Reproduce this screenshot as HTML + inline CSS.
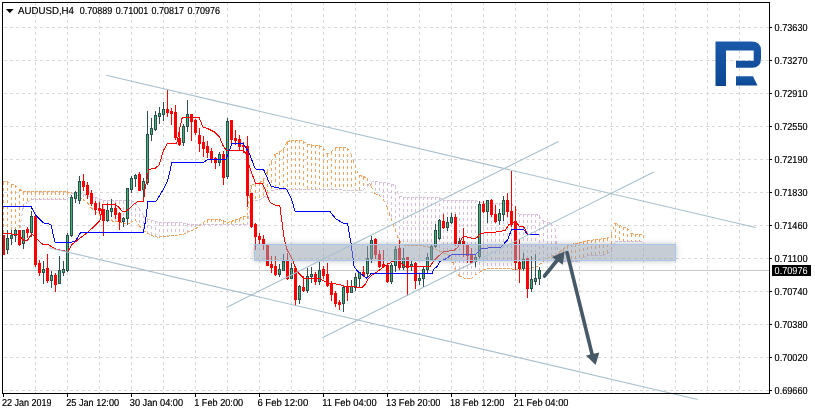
<!DOCTYPE html>
<html><head><meta charset="utf-8"><style>
html,body{margin:0;padding:0;background:#fff;width:815px;height:414px;overflow:hidden}
svg{display:block}
text{font-family:"Liberation Sans",sans-serif;text-rendering:geometricPrecision}
</style></head><body>
<svg width="815" height="414" viewBox="0 0 815 414" shape-rendering="crispEdges">
<defs><filter id="blur" x="-10%" y="-100%" width="120%" height="300%"><feGaussianBlur stdDeviation="3"/></filter><filter id="crisp" filterUnits="userSpaceOnUse" x="0" y="0" width="815" height="414"><feComponentTransfer><feFuncA type="gamma" amplitude="1" exponent="0.7" offset="0"/></feComponentTransfer></filter><mask id="rm" maskUnits="userSpaceOnUse" x="0" y="0" width="815" height="414"><rect x="0" y="0" width="815" height="414" fill="#fff"/><rect x="254" y="244" width="422" height="17" fill="#000"/></mask></defs>
<line x1="35.5" y1="2" x2="35.5" y2="393" stroke="#d9d9d9" stroke-width="1" stroke-dasharray="3 3"/>
<line x1="67.5" y1="2" x2="67.5" y2="393" stroke="#d9d9d9" stroke-width="1" stroke-dasharray="3 3"/>
<line x1="99.5" y1="2" x2="99.5" y2="393" stroke="#d9d9d9" stroke-width="1" stroke-dasharray="3 3"/>
<line x1="131.5" y1="2" x2="131.5" y2="393" stroke="#d9d9d9" stroke-width="1" stroke-dasharray="3 3"/>
<line x1="163.5" y1="2" x2="163.5" y2="393" stroke="#d9d9d9" stroke-width="1" stroke-dasharray="3 3"/>
<line x1="195.5" y1="2" x2="195.5" y2="393" stroke="#d9d9d9" stroke-width="1" stroke-dasharray="3 3"/>
<line x1="227.5" y1="2" x2="227.5" y2="393" stroke="#d9d9d9" stroke-width="1" stroke-dasharray="3 3"/>
<line x1="259.5" y1="2" x2="259.5" y2="393" stroke="#d9d9d9" stroke-width="1" stroke-dasharray="3 3"/>
<line x1="291.5" y1="2" x2="291.5" y2="393" stroke="#d9d9d9" stroke-width="1" stroke-dasharray="3 3"/>
<line x1="323.5" y1="2" x2="323.5" y2="393" stroke="#d9d9d9" stroke-width="1" stroke-dasharray="3 3"/>
<line x1="355.5" y1="2" x2="355.5" y2="393" stroke="#d9d9d9" stroke-width="1" stroke-dasharray="3 3"/>
<line x1="387.5" y1="2" x2="387.5" y2="393" stroke="#d9d9d9" stroke-width="1" stroke-dasharray="3 3"/>
<line x1="419.5" y1="2" x2="419.5" y2="393" stroke="#d9d9d9" stroke-width="1" stroke-dasharray="3 3"/>
<line x1="451.5" y1="2" x2="451.5" y2="393" stroke="#d9d9d9" stroke-width="1" stroke-dasharray="3 3"/>
<line x1="483.5" y1="2" x2="483.5" y2="393" stroke="#d9d9d9" stroke-width="1" stroke-dasharray="3 3"/>
<line x1="515.5" y1="2" x2="515.5" y2="393" stroke="#d9d9d9" stroke-width="1" stroke-dasharray="3 3"/>
<line x1="547.5" y1="2" x2="547.5" y2="393" stroke="#d9d9d9" stroke-width="1" stroke-dasharray="3 3"/>
<line x1="579.5" y1="2" x2="579.5" y2="393" stroke="#d9d9d9" stroke-width="1" stroke-dasharray="3 3"/>
<line x1="611.5" y1="2" x2="611.5" y2="393" stroke="#d9d9d9" stroke-width="1" stroke-dasharray="3 3"/>
<line x1="643.5" y1="2" x2="643.5" y2="393" stroke="#d9d9d9" stroke-width="1" stroke-dasharray="3 3"/>
<line x1="675.5" y1="2" x2="675.5" y2="393" stroke="#d9d9d9" stroke-width="1" stroke-dasharray="3 3"/>
<line x1="707.5" y1="2" x2="707.5" y2="393" stroke="#d9d9d9" stroke-width="1" stroke-dasharray="3 3"/>
<line x1="739.5" y1="2" x2="739.5" y2="393" stroke="#d9d9d9" stroke-width="1" stroke-dasharray="3 3"/>
<line x1="4" y1="27.5" x2="769" y2="27.5" stroke="#d9d9d9" stroke-width="1" stroke-dasharray="3 3"/>
<line x1="4" y1="60.5" x2="769" y2="60.5" stroke="#d9d9d9" stroke-width="1" stroke-dasharray="3 3"/>
<line x1="4" y1="93.5" x2="769" y2="93.5" stroke="#d9d9d9" stroke-width="1" stroke-dasharray="3 3"/>
<line x1="4" y1="126.5" x2="769" y2="126.5" stroke="#d9d9d9" stroke-width="1" stroke-dasharray="3 3"/>
<line x1="4" y1="159.5" x2="769" y2="159.5" stroke="#d9d9d9" stroke-width="1" stroke-dasharray="3 3"/>
<line x1="4" y1="192.5" x2="769" y2="192.5" stroke="#d9d9d9" stroke-width="1" stroke-dasharray="3 3"/>
<line x1="4" y1="225.5" x2="769" y2="225.5" stroke="#d9d9d9" stroke-width="1" stroke-dasharray="3 3"/>
<line x1="4" y1="258.5" x2="769" y2="258.5" stroke="#d9d9d9" stroke-width="1" stroke-dasharray="3 3"/>
<line x1="4" y1="291.5" x2="769" y2="291.5" stroke="#d9d9d9" stroke-width="1" stroke-dasharray="3 3"/>
<line x1="4" y1="324.5" x2="769" y2="324.5" stroke="#d9d9d9" stroke-width="1" stroke-dasharray="3 3"/>
<line x1="4" y1="357.5" x2="769" y2="357.5" stroke="#d9d9d9" stroke-width="1" stroke-dasharray="3 3"/>
<line x1="4" y1="390.5" x2="769" y2="390.5" stroke="#d9d9d9" stroke-width="1" stroke-dasharray="3 3"/>
<line x1="3" y1="270.5" x2="769" y2="270.5" stroke="#c8c8c8" stroke-width="1"/>
<line x1="3.5" y1="181.5" x2="3.5" y2="254.0" stroke="#f4a460" stroke-dasharray="3 3"/>
<line x1="7.5" y1="181.5" x2="7.5" y2="249.1" stroke="#f4a460" stroke-dasharray="3 3"/>
<line x1="11.5" y1="184.7" x2="11.5" y2="244.2" stroke="#f4a460" stroke-dasharray="3 3"/>
<line x1="15.5" y1="184.7" x2="15.5" y2="239.2" stroke="#f4a460" stroke-dasharray="3 3"/>
<line x1="19.5" y1="189.0" x2="19.5" y2="234.3" stroke="#f4a460" stroke-dasharray="3 3"/>
<line x1="23.5" y1="191.8" x2="23.5" y2="208.4" stroke="#f4a460" stroke-dasharray="3 3"/>
<line x1="27.5" y1="191.8" x2="27.5" y2="202.1" stroke="#f4a460" stroke-dasharray="3 3"/>
<line x1="31.5" y1="191.8" x2="31.5" y2="200.0" stroke="#f4a460" stroke-dasharray="3 3"/>
<line x1="35.5" y1="191.8" x2="35.5" y2="199.9" stroke="#f4a460" stroke-dasharray="3 3"/>
<line x1="39.5" y1="191.8" x2="39.5" y2="199.9" stroke="#f4a460" stroke-dasharray="3 3"/>
<line x1="43.5" y1="191.8" x2="43.5" y2="199.8" stroke="#f4a460" stroke-dasharray="3 3"/>
<line x1="47.5" y1="191.8" x2="47.5" y2="199.8" stroke="#f4a460" stroke-dasharray="3 3"/>
<line x1="51.5" y1="191.8" x2="51.5" y2="199.7" stroke="#f4a460" stroke-dasharray="3 3"/>
<line x1="55.5" y1="191.8" x2="55.5" y2="199.7" stroke="#f4a460" stroke-dasharray="3 3"/>
<line x1="59.5" y1="191.8" x2="59.5" y2="199.6" stroke="#f4a460" stroke-dasharray="3 3"/>
<line x1="63.5" y1="191.8" x2="63.5" y2="199.6" stroke="#f4a460" stroke-dasharray="3 3"/>
<line x1="67.5" y1="191.8" x2="67.5" y2="199.5" stroke="#f4a460" stroke-dasharray="3 3"/>
<line x1="71.5" y1="192.5" x2="71.5" y2="194.0" stroke="#f4a460" stroke-dasharray="3 3"/>
<line x1="75.5" y1="193.2" x2="75.5" y2="194.2" stroke="#d8bfd8" stroke-dasharray="3 3"/>
<line x1="79.5" y1="192.4" x2="79.5" y2="197.0" stroke="#d8bfd8" stroke-dasharray="3 3"/>
<line x1="83.5" y1="194.0" x2="83.5" y2="199.6" stroke="#d8bfd8" stroke-dasharray="3 3"/>
<line x1="87.5" y1="195.6" x2="87.5" y2="202.3" stroke="#d8bfd8" stroke-dasharray="3 3"/>
<line x1="91.5" y1="196.7" x2="91.5" y2="207.4" stroke="#d8bfd8" stroke-dasharray="3 3"/>
<line x1="95.5" y1="197.6" x2="95.5" y2="211.4" stroke="#d8bfd8" stroke-dasharray="3 3"/>
<line x1="99.5" y1="198.6" x2="99.5" y2="214.6" stroke="#d8bfd8" stroke-dasharray="3 3"/>
<line x1="103.5" y1="200.1" x2="103.5" y2="217.6" stroke="#d8bfd8" stroke-dasharray="3 3"/>
<line x1="107.5" y1="200.5" x2="107.5" y2="220.0" stroke="#d8bfd8" stroke-dasharray="3 3"/>
<line x1="111.5" y1="200.5" x2="111.5" y2="220.7" stroke="#d8bfd8" stroke-dasharray="3 3"/>
<line x1="115.5" y1="200.5" x2="115.5" y2="221.5" stroke="#d8bfd8" stroke-dasharray="3 3"/>
<line x1="119.5" y1="200.5" x2="119.5" y2="222.2" stroke="#d8bfd8" stroke-dasharray="3 3"/>
<line x1="123.5" y1="200.5" x2="123.5" y2="223.0" stroke="#d8bfd8" stroke-dasharray="3 3"/>
<line x1="127.5" y1="200.5" x2="127.5" y2="223.7" stroke="#d8bfd8" stroke-dasharray="3 3"/>
<line x1="131.5" y1="200.8" x2="131.5" y2="222.9" stroke="#d8bfd8" stroke-dasharray="3 3"/>
<line x1="135.5" y1="202.2" x2="135.5" y2="219.3" stroke="#d8bfd8" stroke-dasharray="3 3"/>
<line x1="139.5" y1="208.2" x2="139.5" y2="225.1" stroke="#d8bfd8" stroke-dasharray="3 3"/>
<line x1="143.5" y1="215.1" x2="143.5" y2="230.2" stroke="#d8bfd8" stroke-dasharray="3 3"/>
<line x1="147.5" y1="218.6" x2="147.5" y2="233.0" stroke="#d8bfd8" stroke-dasharray="3 3"/>
<line x1="151.5" y1="220.0" x2="151.5" y2="234.9" stroke="#d8bfd8" stroke-dasharray="3 3"/>
<line x1="155.5" y1="221.3" x2="155.5" y2="236.9" stroke="#d8bfd8" stroke-dasharray="3 3"/>
<line x1="159.5" y1="222.7" x2="159.5" y2="237.1" stroke="#d8bfd8" stroke-dasharray="3 3"/>
<line x1="163.5" y1="222.7" x2="163.5" y2="236.6" stroke="#d8bfd8" stroke-dasharray="3 3"/>
<line x1="167.5" y1="222.7" x2="167.5" y2="236.2" stroke="#d8bfd8" stroke-dasharray="3 3"/>
<line x1="171.5" y1="222.7" x2="171.5" y2="235.8" stroke="#d8bfd8" stroke-dasharray="3 3"/>
<line x1="175.5" y1="222.7" x2="175.5" y2="235.3" stroke="#d8bfd8" stroke-dasharray="3 3"/>
<line x1="179.5" y1="222.7" x2="179.5" y2="234.9" stroke="#d8bfd8" stroke-dasharray="3 3"/>
<line x1="183.5" y1="223.1" x2="183.5" y2="234.3" stroke="#d8bfd8" stroke-dasharray="3 3"/>
<line x1="187.5" y1="223.9" x2="187.5" y2="232.5" stroke="#d8bfd8" stroke-dasharray="3 3"/>
<line x1="191.5" y1="224.2" x2="191.5" y2="230.8" stroke="#d8bfd8" stroke-dasharray="3 3"/>
<line x1="195.5" y1="224.3" x2="195.5" y2="229.0" stroke="#d8bfd8" stroke-dasharray="3 3"/>
<line x1="199.5" y1="224.3" x2="199.5" y2="226.1" stroke="#d8bfd8" stroke-dasharray="3 3"/>
<line x1="203.5" y1="222.9" x2="203.5" y2="224.4" stroke="#f4a460" stroke-dasharray="3 3"/>
<line x1="207.5" y1="219.6" x2="207.5" y2="224.4" stroke="#f4a460" stroke-dasharray="3 3"/>
<line x1="211.5" y1="219.3" x2="211.5" y2="224.5" stroke="#f4a460" stroke-dasharray="3 3"/>
<line x1="215.5" y1="219.3" x2="215.5" y2="224.6" stroke="#f4a460" stroke-dasharray="3 3"/>
<line x1="219.5" y1="219.3" x2="219.5" y2="224.6" stroke="#f4a460" stroke-dasharray="3 3"/>
<line x1="223.5" y1="220.5" x2="223.5" y2="224.7" stroke="#f4a460" stroke-dasharray="3 3"/>
<line x1="227.5" y1="222.5" x2="227.5" y2="224.7" stroke="#f4a460" stroke-dasharray="3 3"/>
<line x1="231.5" y1="221.6" x2="231.5" y2="224.8" stroke="#f4a460" stroke-dasharray="3 3"/>
<line x1="235.5" y1="220.1" x2="235.5" y2="224.8" stroke="#f4a460" stroke-dasharray="3 3"/>
<line x1="239.5" y1="218.6" x2="239.5" y2="224.9" stroke="#f4a460" stroke-dasharray="3 3"/>
<line x1="243.5" y1="217.1" x2="243.5" y2="224.9" stroke="#f4a460" stroke-dasharray="3 3"/>
<line x1="247.5" y1="215.6" x2="247.5" y2="225.0" stroke="#f4a460" stroke-dasharray="3 3"/>
<line x1="251.5" y1="185.5" x2="251.5" y2="201.2" stroke="#f4a460" stroke-dasharray="3 3"/>
<line x1="255.5" y1="184.1" x2="255.5" y2="200.5" stroke="#f4a460" stroke-dasharray="3 3"/>
<line x1="259.5" y1="182.8" x2="259.5" y2="199.8" stroke="#f4a460" stroke-dasharray="3 3"/>
<line x1="263.5" y1="180.6" x2="263.5" y2="198.0" stroke="#f4a460" stroke-dasharray="3 3"/>
<line x1="267.5" y1="171.9" x2="267.5" y2="195.0" stroke="#f4a460" stroke-dasharray="3 3"/>
<line x1="271.5" y1="161.7" x2="271.5" y2="190.4" stroke="#f4a460" stroke-dasharray="3 3"/>
<line x1="275.5" y1="154.6" x2="275.5" y2="189.8" stroke="#f4a460" stroke-dasharray="3 3"/>
<line x1="279.5" y1="152.1" x2="279.5" y2="189.8" stroke="#f4a460" stroke-dasharray="3 3"/>
<line x1="283.5" y1="150.1" x2="283.5" y2="189.8" stroke="#f4a460" stroke-dasharray="3 3"/>
<line x1="287.5" y1="142.0" x2="287.5" y2="189.8" stroke="#f4a460" stroke-dasharray="3 3"/>
<line x1="291.5" y1="140.4" x2="291.5" y2="189.8" stroke="#f4a460" stroke-dasharray="3 3"/>
<line x1="295.5" y1="140.4" x2="295.5" y2="189.9" stroke="#f4a460" stroke-dasharray="3 3"/>
<line x1="299.5" y1="140.4" x2="299.5" y2="189.9" stroke="#f4a460" stroke-dasharray="3 3"/>
<line x1="303.5" y1="141.0" x2="303.5" y2="189.9" stroke="#f4a460" stroke-dasharray="3 3"/>
<line x1="307.5" y1="144.2" x2="307.5" y2="189.9" stroke="#f4a460" stroke-dasharray="3 3"/>
<line x1="311.5" y1="144.9" x2="311.5" y2="189.9" stroke="#f4a460" stroke-dasharray="3 3"/>
<line x1="315.5" y1="145.2" x2="315.5" y2="189.9" stroke="#f4a460" stroke-dasharray="3 3"/>
<line x1="319.5" y1="145.5" x2="319.5" y2="189.9" stroke="#f4a460" stroke-dasharray="3 3"/>
<line x1="323.5" y1="147.8" x2="323.5" y2="189.9" stroke="#f4a460" stroke-dasharray="3 3"/>
<line x1="327.5" y1="154.2" x2="327.5" y2="189.9" stroke="#f4a460" stroke-dasharray="3 3"/>
<line x1="331.5" y1="152.0" x2="331.5" y2="189.9" stroke="#f4a460" stroke-dasharray="3 3"/>
<line x1="335.5" y1="148.0" x2="335.5" y2="189.9" stroke="#f4a460" stroke-dasharray="3 3"/>
<line x1="339.5" y1="147.9" x2="339.5" y2="189.9" stroke="#f4a460" stroke-dasharray="3 3"/>
<line x1="343.5" y1="147.8" x2="343.5" y2="190.0" stroke="#f4a460" stroke-dasharray="3 3"/>
<line x1="347.5" y1="147.7" x2="347.5" y2="190.0" stroke="#f4a460" stroke-dasharray="3 3"/>
<line x1="351.5" y1="154.2" x2="351.5" y2="190.0" stroke="#f4a460" stroke-dasharray="3 3"/>
<line x1="355.5" y1="165.1" x2="355.5" y2="190.0" stroke="#f4a460" stroke-dasharray="3 3"/>
<line x1="359.5" y1="175.2" x2="359.5" y2="190.0" stroke="#f4a460" stroke-dasharray="3 3"/>
<line x1="363.5" y1="176.5" x2="363.5" y2="190.0" stroke="#f4a460" stroke-dasharray="3 3"/>
<line x1="367.5" y1="177.8" x2="367.5" y2="186.5" stroke="#f4a460" stroke-dasharray="3 3"/>
<line x1="371.5" y1="182.1" x2="371.5" y2="186.3" stroke="#d8bfd8" stroke-dasharray="3 3"/>
<line x1="375.5" y1="181.8" x2="375.5" y2="193.5" stroke="#d8bfd8" stroke-dasharray="3 3"/>
<line x1="379.5" y1="182.1" x2="379.5" y2="195.2" stroke="#d8bfd8" stroke-dasharray="3 3"/>
<line x1="383.5" y1="182.5" x2="383.5" y2="199.4" stroke="#d8bfd8" stroke-dasharray="3 3"/>
<line x1="387.5" y1="183.0" x2="387.5" y2="206.9" stroke="#d8bfd8" stroke-dasharray="3 3"/>
<line x1="391.5" y1="184.1" x2="391.5" y2="218.2" stroke="#d8bfd8" stroke-dasharray="3 3"/>
<line x1="395.5" y1="185.5" x2="395.5" y2="229.3" stroke="#d8bfd8" stroke-dasharray="3 3"/>
<line x1="399.5" y1="195.9" x2="399.5" y2="240.2" stroke="#d8bfd8" stroke-dasharray="3 3"/>
<line x1="403.5" y1="197.3" x2="403.5" y2="244.9" stroke="#d8bfd8" stroke-dasharray="3 3"/>
<line x1="407.5" y1="197.3" x2="407.5" y2="245.3" stroke="#d8bfd8" stroke-dasharray="3 3"/>
<line x1="411.5" y1="197.2" x2="411.5" y2="245.4" stroke="#d8bfd8" stroke-dasharray="3 3"/>
<line x1="415.5" y1="197.2" x2="415.5" y2="245.6" stroke="#d8bfd8" stroke-dasharray="3 3"/>
<line x1="419.5" y1="197.2" x2="419.5" y2="245.8" stroke="#d8bfd8" stroke-dasharray="3 3"/>
<line x1="423.5" y1="197.2" x2="423.5" y2="246.0" stroke="#d8bfd8" stroke-dasharray="3 3"/>
<line x1="427.5" y1="197.2" x2="427.5" y2="246.8" stroke="#d8bfd8" stroke-dasharray="3 3"/>
<line x1="431.5" y1="197.1" x2="431.5" y2="247.8" stroke="#d8bfd8" stroke-dasharray="3 3"/>
<line x1="435.5" y1="197.1" x2="435.5" y2="249.1" stroke="#d8bfd8" stroke-dasharray="3 3"/>
<line x1="439.5" y1="197.1" x2="439.5" y2="250.7" stroke="#d8bfd8" stroke-dasharray="3 3"/>
<line x1="443.5" y1="200.3" x2="443.5" y2="252.7" stroke="#d8bfd8" stroke-dasharray="3 3"/>
<line x1="447.5" y1="200.3" x2="447.5" y2="254.7" stroke="#d8bfd8" stroke-dasharray="3 3"/>
<line x1="451.5" y1="200.3" x2="451.5" y2="256.6" stroke="#d8bfd8" stroke-dasharray="3 3"/>
<line x1="455.5" y1="200.3" x2="455.5" y2="268.5" stroke="#d8bfd8" stroke-dasharray="3 3"/>
<line x1="459.5" y1="200.3" x2="459.5" y2="275.8" stroke="#d8bfd8" stroke-dasharray="3 3"/>
<line x1="463.5" y1="200.3" x2="463.5" y2="277.8" stroke="#d8bfd8" stroke-dasharray="3 3"/>
<line x1="467.5" y1="200.3" x2="467.5" y2="278.9" stroke="#d8bfd8" stroke-dasharray="3 3"/>
<line x1="471.5" y1="200.3" x2="471.5" y2="278.7" stroke="#d8bfd8" stroke-dasharray="3 3"/>
<line x1="475.5" y1="200.3" x2="475.5" y2="275.2" stroke="#d8bfd8" stroke-dasharray="3 3"/>
<line x1="479.5" y1="201.9" x2="479.5" y2="272.4" stroke="#d8bfd8" stroke-dasharray="3 3"/>
<line x1="483.5" y1="203.4" x2="483.5" y2="270.1" stroke="#d8bfd8" stroke-dasharray="3 3"/>
<line x1="487.5" y1="203.4" x2="487.5" y2="268.6" stroke="#d8bfd8" stroke-dasharray="3 3"/>
<line x1="491.5" y1="203.4" x2="491.5" y2="268.2" stroke="#d8bfd8" stroke-dasharray="3 3"/>
<line x1="495.5" y1="203.4" x2="495.5" y2="268.1" stroke="#d8bfd8" stroke-dasharray="3 3"/>
<line x1="499.5" y1="203.4" x2="499.5" y2="268.1" stroke="#d8bfd8" stroke-dasharray="3 3"/>
<line x1="503.5" y1="203.4" x2="503.5" y2="268.0" stroke="#d8bfd8" stroke-dasharray="3 3"/>
<line x1="507.5" y1="203.4" x2="507.5" y2="268.0" stroke="#d8bfd8" stroke-dasharray="3 3"/>
<line x1="511.5" y1="203.4" x2="511.5" y2="268.8" stroke="#d8bfd8" stroke-dasharray="3 3"/>
<line x1="515.5" y1="208.0" x2="515.5" y2="269.8" stroke="#d8bfd8" stroke-dasharray="3 3"/>
<line x1="519.5" y1="214.2" x2="519.5" y2="269.6" stroke="#d8bfd8" stroke-dasharray="3 3"/>
<line x1="523.5" y1="214.2" x2="523.5" y2="269.0" stroke="#d8bfd8" stroke-dasharray="3 3"/>
<line x1="527.5" y1="214.2" x2="527.5" y2="268.4" stroke="#d8bfd8" stroke-dasharray="3 3"/>
<line x1="531.5" y1="214.2" x2="531.5" y2="267.9" stroke="#d8bfd8" stroke-dasharray="3 3"/>
<line x1="535.5" y1="214.2" x2="535.5" y2="267.3" stroke="#d8bfd8" stroke-dasharray="3 3"/>
<line x1="539.5" y1="215.5" x2="539.5" y2="265.2" stroke="#d8bfd8" stroke-dasharray="3 3"/>
<line x1="543.5" y1="220.8" x2="543.5" y2="261.5" stroke="#d8bfd8" stroke-dasharray="3 3"/>
<line x1="547.5" y1="222.5" x2="547.5" y2="258.6" stroke="#d8bfd8" stroke-dasharray="3 3"/>
<line x1="551.5" y1="223.3" x2="551.5" y2="256.4" stroke="#d8bfd8" stroke-dasharray="3 3"/>
<line x1="555.5" y1="229.0" x2="555.5" y2="254.2" stroke="#d8bfd8" stroke-dasharray="3 3"/>
<line x1="559.5" y1="252.0" x2="559.5" y2="258.9" stroke="#f4a460" stroke-dasharray="3 3"/>
<line x1="563.5" y1="249.4" x2="563.5" y2="261.5" stroke="#f4a460" stroke-dasharray="3 3"/>
<line x1="567.5" y1="245.9" x2="567.5" y2="261.5" stroke="#f4a460" stroke-dasharray="3 3"/>
<line x1="571.5" y1="244.4" x2="571.5" y2="261.5" stroke="#f4a460" stroke-dasharray="3 3"/>
<line x1="575.5" y1="243.6" x2="575.5" y2="261.5" stroke="#f4a460" stroke-dasharray="3 3"/>
<line x1="579.5" y1="242.8" x2="579.5" y2="261.5" stroke="#f4a460" stroke-dasharray="3 3"/>
<line x1="583.5" y1="242.0" x2="583.5" y2="258.1" stroke="#f4a460" stroke-dasharray="3 3"/>
<line x1="587.5" y1="241.1" x2="587.5" y2="255.9" stroke="#f4a460" stroke-dasharray="3 3"/>
<line x1="591.5" y1="240.3" x2="591.5" y2="255.7" stroke="#f4a460" stroke-dasharray="3 3"/>
<line x1="595.5" y1="239.6" x2="595.5" y2="255.6" stroke="#f4a460" stroke-dasharray="3 3"/>
<line x1="599.5" y1="239.2" x2="599.5" y2="255.4" stroke="#f4a460" stroke-dasharray="3 3"/>
<line x1="603.5" y1="238.8" x2="603.5" y2="255.2" stroke="#f4a460" stroke-dasharray="3 3"/>
<line x1="607.5" y1="238.4" x2="607.5" y2="253.5" stroke="#f4a460" stroke-dasharray="3 3"/>
<line x1="611.5" y1="235.3" x2="611.5" y2="251.5" stroke="#f4a460" stroke-dasharray="3 3"/>
<line x1="615.5" y1="223.0" x2="615.5" y2="241.2" stroke="#f4a460" stroke-dasharray="3 3"/>
<line x1="619.5" y1="225.0" x2="619.5" y2="241.2" stroke="#f4a460" stroke-dasharray="3 3"/>
<line x1="623.5" y1="227.2" x2="623.5" y2="241.2" stroke="#f4a460" stroke-dasharray="3 3"/>
<line x1="627.5" y1="227.8" x2="627.5" y2="241.2" stroke="#f4a460" stroke-dasharray="3 3"/>
<line x1="631.5" y1="233.9" x2="631.5" y2="241.2" stroke="#f4a460" stroke-dasharray="3 3"/>
<line x1="635.5" y1="234.1" x2="635.5" y2="241.2" stroke="#f4a460" stroke-dasharray="3 3"/>
<line x1="639.5" y1="234.4" x2="639.5" y2="241.2" stroke="#f4a460" stroke-dasharray="3 3"/>
<line x1="643.5" y1="234.6" x2="643.5" y2="241.2" stroke="#f4a460" stroke-dasharray="3 3"/>
<line x1="3" y1="181.5" x2="7" y2="181.5" stroke="#f4a460" stroke-dasharray="3 3"/>
<line x1="3" y1="254.0" x2="7" y2="249.1" stroke="#d8bfd8" stroke-dasharray="3 3"/>
<line x1="7" y1="181.5" x2="11" y2="184.7" stroke="#f4a460" stroke-dasharray="3 3"/>
<line x1="7" y1="249.1" x2="11" y2="244.2" stroke="#d8bfd8" stroke-dasharray="3 3"/>
<line x1="11" y1="184.7" x2="15" y2="184.7" stroke="#f4a460" stroke-dasharray="3 3"/>
<line x1="11" y1="244.2" x2="15" y2="239.2" stroke="#d8bfd8" stroke-dasharray="3 3"/>
<line x1="15" y1="184.7" x2="19" y2="189.0" stroke="#f4a460" stroke-dasharray="3 3"/>
<line x1="15" y1="239.2" x2="19" y2="234.3" stroke="#d8bfd8" stroke-dasharray="3 3"/>
<line x1="19" y1="189.0" x2="23" y2="191.8" stroke="#f4a460" stroke-dasharray="3 3"/>
<line x1="19" y1="234.3" x2="23" y2="208.4" stroke="#d8bfd8" stroke-dasharray="3 3"/>
<line x1="23" y1="191.8" x2="27" y2="191.8" stroke="#f4a460" stroke-dasharray="3 3"/>
<line x1="23" y1="208.4" x2="27" y2="202.1" stroke="#d8bfd8" stroke-dasharray="3 3"/>
<line x1="27" y1="191.8" x2="31" y2="191.8" stroke="#f4a460" stroke-dasharray="3 3"/>
<line x1="27" y1="202.1" x2="31" y2="200.0" stroke="#d8bfd8" stroke-dasharray="3 3"/>
<line x1="31" y1="191.8" x2="35" y2="191.8" stroke="#f4a460" stroke-dasharray="3 3"/>
<line x1="31" y1="200.0" x2="35" y2="199.9" stroke="#d8bfd8" stroke-dasharray="3 3"/>
<line x1="35" y1="191.8" x2="39" y2="191.8" stroke="#f4a460" stroke-dasharray="3 3"/>
<line x1="35" y1="199.9" x2="39" y2="199.9" stroke="#d8bfd8" stroke-dasharray="3 3"/>
<line x1="39" y1="191.8" x2="43" y2="191.8" stroke="#f4a460" stroke-dasharray="3 3"/>
<line x1="39" y1="199.9" x2="43" y2="199.8" stroke="#d8bfd8" stroke-dasharray="3 3"/>
<line x1="43" y1="191.8" x2="47" y2="191.8" stroke="#f4a460" stroke-dasharray="3 3"/>
<line x1="43" y1="199.8" x2="47" y2="199.8" stroke="#d8bfd8" stroke-dasharray="3 3"/>
<line x1="47" y1="191.8" x2="51" y2="191.8" stroke="#f4a460" stroke-dasharray="3 3"/>
<line x1="47" y1="199.8" x2="51" y2="199.7" stroke="#d8bfd8" stroke-dasharray="3 3"/>
<line x1="51" y1="191.8" x2="55" y2="191.8" stroke="#f4a460" stroke-dasharray="3 3"/>
<line x1="51" y1="199.7" x2="55" y2="199.7" stroke="#d8bfd8" stroke-dasharray="3 3"/>
<line x1="55" y1="191.8" x2="59" y2="191.8" stroke="#f4a460" stroke-dasharray="3 3"/>
<line x1="55" y1="199.7" x2="59" y2="199.6" stroke="#d8bfd8" stroke-dasharray="3 3"/>
<line x1="59" y1="191.8" x2="63" y2="191.8" stroke="#f4a460" stroke-dasharray="3 3"/>
<line x1="59" y1="199.6" x2="63" y2="199.6" stroke="#d8bfd8" stroke-dasharray="3 3"/>
<line x1="63" y1="191.8" x2="67" y2="191.8" stroke="#f4a460" stroke-dasharray="3 3"/>
<line x1="63" y1="199.6" x2="67" y2="199.5" stroke="#d8bfd8" stroke-dasharray="3 3"/>
<line x1="67" y1="191.8" x2="71" y2="192.5" stroke="#f4a460" stroke-dasharray="3 3"/>
<line x1="67" y1="199.5" x2="71" y2="194.0" stroke="#d8bfd8" stroke-dasharray="3 3"/>
<line x1="71" y1="192.5" x2="75" y2="194.2" stroke="#f4a460" stroke-dasharray="3 3"/>
<line x1="71" y1="194.0" x2="75" y2="193.2" stroke="#d8bfd8" stroke-dasharray="3 3"/>
<line x1="75" y1="194.2" x2="79" y2="197.0" stroke="#f4a460" stroke-dasharray="3 3"/>
<line x1="75" y1="193.2" x2="79" y2="192.4" stroke="#d8bfd8" stroke-dasharray="3 3"/>
<line x1="79" y1="197.0" x2="83" y2="199.6" stroke="#f4a460" stroke-dasharray="3 3"/>
<line x1="79" y1="192.4" x2="83" y2="194.0" stroke="#d8bfd8" stroke-dasharray="3 3"/>
<line x1="83" y1="199.6" x2="87" y2="202.3" stroke="#f4a460" stroke-dasharray="3 3"/>
<line x1="83" y1="194.0" x2="87" y2="195.6" stroke="#d8bfd8" stroke-dasharray="3 3"/>
<line x1="87" y1="202.3" x2="91" y2="207.4" stroke="#f4a460" stroke-dasharray="3 3"/>
<line x1="87" y1="195.6" x2="91" y2="196.7" stroke="#d8bfd8" stroke-dasharray="3 3"/>
<line x1="91" y1="207.4" x2="95" y2="211.4" stroke="#f4a460" stroke-dasharray="3 3"/>
<line x1="91" y1="196.7" x2="95" y2="197.6" stroke="#d8bfd8" stroke-dasharray="3 3"/>
<line x1="95" y1="211.4" x2="99" y2="214.6" stroke="#f4a460" stroke-dasharray="3 3"/>
<line x1="95" y1="197.6" x2="99" y2="198.6" stroke="#d8bfd8" stroke-dasharray="3 3"/>
<line x1="99" y1="214.6" x2="103" y2="217.6" stroke="#f4a460" stroke-dasharray="3 3"/>
<line x1="99" y1="198.6" x2="103" y2="200.1" stroke="#d8bfd8" stroke-dasharray="3 3"/>
<line x1="103" y1="217.6" x2="107" y2="220.0" stroke="#f4a460" stroke-dasharray="3 3"/>
<line x1="103" y1="200.1" x2="107" y2="200.5" stroke="#d8bfd8" stroke-dasharray="3 3"/>
<line x1="107" y1="220.0" x2="111" y2="220.7" stroke="#f4a460" stroke-dasharray="3 3"/>
<line x1="107" y1="200.5" x2="111" y2="200.5" stroke="#d8bfd8" stroke-dasharray="3 3"/>
<line x1="111" y1="220.7" x2="115" y2="221.5" stroke="#f4a460" stroke-dasharray="3 3"/>
<line x1="111" y1="200.5" x2="115" y2="200.5" stroke="#d8bfd8" stroke-dasharray="3 3"/>
<line x1="115" y1="221.5" x2="119" y2="222.2" stroke="#f4a460" stroke-dasharray="3 3"/>
<line x1="115" y1="200.5" x2="119" y2="200.5" stroke="#d8bfd8" stroke-dasharray="3 3"/>
<line x1="119" y1="222.2" x2="123" y2="223.0" stroke="#f4a460" stroke-dasharray="3 3"/>
<line x1="119" y1="200.5" x2="123" y2="200.5" stroke="#d8bfd8" stroke-dasharray="3 3"/>
<line x1="123" y1="223.0" x2="127" y2="223.7" stroke="#f4a460" stroke-dasharray="3 3"/>
<line x1="123" y1="200.5" x2="127" y2="200.5" stroke="#d8bfd8" stroke-dasharray="3 3"/>
<line x1="127" y1="223.7" x2="131" y2="222.9" stroke="#f4a460" stroke-dasharray="3 3"/>
<line x1="127" y1="200.5" x2="131" y2="200.8" stroke="#d8bfd8" stroke-dasharray="3 3"/>
<line x1="131" y1="222.9" x2="135" y2="219.3" stroke="#f4a460" stroke-dasharray="3 3"/>
<line x1="131" y1="200.8" x2="135" y2="202.2" stroke="#d8bfd8" stroke-dasharray="3 3"/>
<line x1="135" y1="219.3" x2="139" y2="225.1" stroke="#f4a460" stroke-dasharray="3 3"/>
<line x1="135" y1="202.2" x2="139" y2="208.2" stroke="#d8bfd8" stroke-dasharray="3 3"/>
<line x1="139" y1="225.1" x2="143" y2="230.2" stroke="#f4a460" stroke-dasharray="3 3"/>
<line x1="139" y1="208.2" x2="143" y2="215.1" stroke="#d8bfd8" stroke-dasharray="3 3"/>
<line x1="143" y1="230.2" x2="147" y2="233.0" stroke="#f4a460" stroke-dasharray="3 3"/>
<line x1="143" y1="215.1" x2="147" y2="218.6" stroke="#d8bfd8" stroke-dasharray="3 3"/>
<line x1="147" y1="233.0" x2="151" y2="234.9" stroke="#f4a460" stroke-dasharray="3 3"/>
<line x1="147" y1="218.6" x2="151" y2="220.0" stroke="#d8bfd8" stroke-dasharray="3 3"/>
<line x1="151" y1="234.9" x2="155" y2="236.9" stroke="#f4a460" stroke-dasharray="3 3"/>
<line x1="151" y1="220.0" x2="155" y2="221.3" stroke="#d8bfd8" stroke-dasharray="3 3"/>
<line x1="155" y1="236.9" x2="159" y2="237.1" stroke="#f4a460" stroke-dasharray="3 3"/>
<line x1="155" y1="221.3" x2="159" y2="222.7" stroke="#d8bfd8" stroke-dasharray="3 3"/>
<line x1="159" y1="237.1" x2="163" y2="236.6" stroke="#f4a460" stroke-dasharray="3 3"/>
<line x1="159" y1="222.7" x2="163" y2="222.7" stroke="#d8bfd8" stroke-dasharray="3 3"/>
<line x1="163" y1="236.6" x2="167" y2="236.2" stroke="#f4a460" stroke-dasharray="3 3"/>
<line x1="163" y1="222.7" x2="167" y2="222.7" stroke="#d8bfd8" stroke-dasharray="3 3"/>
<line x1="167" y1="236.2" x2="171" y2="235.8" stroke="#f4a460" stroke-dasharray="3 3"/>
<line x1="167" y1="222.7" x2="171" y2="222.7" stroke="#d8bfd8" stroke-dasharray="3 3"/>
<line x1="171" y1="235.8" x2="175" y2="235.3" stroke="#f4a460" stroke-dasharray="3 3"/>
<line x1="171" y1="222.7" x2="175" y2="222.7" stroke="#d8bfd8" stroke-dasharray="3 3"/>
<line x1="175" y1="235.3" x2="179" y2="234.9" stroke="#f4a460" stroke-dasharray="3 3"/>
<line x1="175" y1="222.7" x2="179" y2="222.7" stroke="#d8bfd8" stroke-dasharray="3 3"/>
<line x1="179" y1="234.9" x2="183" y2="234.3" stroke="#f4a460" stroke-dasharray="3 3"/>
<line x1="179" y1="222.7" x2="183" y2="223.1" stroke="#d8bfd8" stroke-dasharray="3 3"/>
<line x1="183" y1="234.3" x2="187" y2="232.5" stroke="#f4a460" stroke-dasharray="3 3"/>
<line x1="183" y1="223.1" x2="187" y2="223.9" stroke="#d8bfd8" stroke-dasharray="3 3"/>
<line x1="187" y1="232.5" x2="191" y2="230.8" stroke="#f4a460" stroke-dasharray="3 3"/>
<line x1="187" y1="223.9" x2="191" y2="224.2" stroke="#d8bfd8" stroke-dasharray="3 3"/>
<line x1="191" y1="230.8" x2="195" y2="229.0" stroke="#f4a460" stroke-dasharray="3 3"/>
<line x1="191" y1="224.2" x2="195" y2="224.3" stroke="#d8bfd8" stroke-dasharray="3 3"/>
<line x1="195" y1="229.0" x2="199" y2="226.1" stroke="#f4a460" stroke-dasharray="3 3"/>
<line x1="195" y1="224.3" x2="199" y2="224.3" stroke="#d8bfd8" stroke-dasharray="3 3"/>
<line x1="199" y1="226.1" x2="203" y2="222.9" stroke="#f4a460" stroke-dasharray="3 3"/>
<line x1="199" y1="224.3" x2="203" y2="224.4" stroke="#d8bfd8" stroke-dasharray="3 3"/>
<line x1="203" y1="222.9" x2="207" y2="219.6" stroke="#f4a460" stroke-dasharray="3 3"/>
<line x1="203" y1="224.4" x2="207" y2="224.4" stroke="#d8bfd8" stroke-dasharray="3 3"/>
<line x1="207" y1="219.6" x2="211" y2="219.3" stroke="#f4a460" stroke-dasharray="3 3"/>
<line x1="207" y1="224.4" x2="211" y2="224.5" stroke="#d8bfd8" stroke-dasharray="3 3"/>
<line x1="211" y1="219.3" x2="215" y2="219.3" stroke="#f4a460" stroke-dasharray="3 3"/>
<line x1="211" y1="224.5" x2="215" y2="224.6" stroke="#d8bfd8" stroke-dasharray="3 3"/>
<line x1="215" y1="219.3" x2="219" y2="219.3" stroke="#f4a460" stroke-dasharray="3 3"/>
<line x1="215" y1="224.6" x2="219" y2="224.6" stroke="#d8bfd8" stroke-dasharray="3 3"/>
<line x1="219" y1="219.3" x2="223" y2="220.5" stroke="#f4a460" stroke-dasharray="3 3"/>
<line x1="219" y1="224.6" x2="223" y2="224.7" stroke="#d8bfd8" stroke-dasharray="3 3"/>
<line x1="223" y1="220.5" x2="227" y2="222.5" stroke="#f4a460" stroke-dasharray="3 3"/>
<line x1="223" y1="224.7" x2="227" y2="224.7" stroke="#d8bfd8" stroke-dasharray="3 3"/>
<line x1="227" y1="222.5" x2="231" y2="221.6" stroke="#f4a460" stroke-dasharray="3 3"/>
<line x1="227" y1="224.7" x2="231" y2="224.8" stroke="#d8bfd8" stroke-dasharray="3 3"/>
<line x1="231" y1="221.6" x2="235" y2="220.1" stroke="#f4a460" stroke-dasharray="3 3"/>
<line x1="231" y1="224.8" x2="235" y2="224.8" stroke="#d8bfd8" stroke-dasharray="3 3"/>
<line x1="235" y1="220.1" x2="239" y2="218.6" stroke="#f4a460" stroke-dasharray="3 3"/>
<line x1="235" y1="224.8" x2="239" y2="224.9" stroke="#d8bfd8" stroke-dasharray="3 3"/>
<line x1="239" y1="218.6" x2="243" y2="217.1" stroke="#f4a460" stroke-dasharray="3 3"/>
<line x1="239" y1="224.9" x2="243" y2="224.9" stroke="#d8bfd8" stroke-dasharray="3 3"/>
<line x1="243" y1="217.1" x2="247" y2="215.6" stroke="#f4a460" stroke-dasharray="3 3"/>
<line x1="243" y1="224.9" x2="247" y2="225.0" stroke="#d8bfd8" stroke-dasharray="3 3"/>
<line x1="247" y1="215.6" x2="251" y2="185.5" stroke="#f4a460" stroke-dasharray="3 3"/>
<line x1="247" y1="225.0" x2="251" y2="201.2" stroke="#d8bfd8" stroke-dasharray="3 3"/>
<line x1="251" y1="185.5" x2="255" y2="184.1" stroke="#f4a460" stroke-dasharray="3 3"/>
<line x1="251" y1="201.2" x2="255" y2="200.5" stroke="#d8bfd8" stroke-dasharray="3 3"/>
<line x1="255" y1="184.1" x2="259" y2="182.8" stroke="#f4a460" stroke-dasharray="3 3"/>
<line x1="255" y1="200.5" x2="259" y2="199.8" stroke="#d8bfd8" stroke-dasharray="3 3"/>
<line x1="259" y1="182.8" x2="263" y2="180.6" stroke="#f4a460" stroke-dasharray="3 3"/>
<line x1="259" y1="199.8" x2="263" y2="198.0" stroke="#d8bfd8" stroke-dasharray="3 3"/>
<line x1="263" y1="180.6" x2="267" y2="171.9" stroke="#f4a460" stroke-dasharray="3 3"/>
<line x1="263" y1="198.0" x2="267" y2="195.0" stroke="#d8bfd8" stroke-dasharray="3 3"/>
<line x1="267" y1="171.9" x2="271" y2="161.7" stroke="#f4a460" stroke-dasharray="3 3"/>
<line x1="267" y1="195.0" x2="271" y2="190.4" stroke="#d8bfd8" stroke-dasharray="3 3"/>
<line x1="271" y1="161.7" x2="275" y2="154.6" stroke="#f4a460" stroke-dasharray="3 3"/>
<line x1="271" y1="190.4" x2="275" y2="189.8" stroke="#d8bfd8" stroke-dasharray="3 3"/>
<line x1="275" y1="154.6" x2="279" y2="152.1" stroke="#f4a460" stroke-dasharray="3 3"/>
<line x1="275" y1="189.8" x2="279" y2="189.8" stroke="#d8bfd8" stroke-dasharray="3 3"/>
<line x1="279" y1="152.1" x2="283" y2="150.1" stroke="#f4a460" stroke-dasharray="3 3"/>
<line x1="279" y1="189.8" x2="283" y2="189.8" stroke="#d8bfd8" stroke-dasharray="3 3"/>
<line x1="283" y1="150.1" x2="287" y2="142.0" stroke="#f4a460" stroke-dasharray="3 3"/>
<line x1="283" y1="189.8" x2="287" y2="189.8" stroke="#d8bfd8" stroke-dasharray="3 3"/>
<line x1="287" y1="142.0" x2="291" y2="140.4" stroke="#f4a460" stroke-dasharray="3 3"/>
<line x1="287" y1="189.8" x2="291" y2="189.8" stroke="#d8bfd8" stroke-dasharray="3 3"/>
<line x1="291" y1="140.4" x2="295" y2="140.4" stroke="#f4a460" stroke-dasharray="3 3"/>
<line x1="291" y1="189.8" x2="295" y2="189.9" stroke="#d8bfd8" stroke-dasharray="3 3"/>
<line x1="295" y1="140.4" x2="299" y2="140.4" stroke="#f4a460" stroke-dasharray="3 3"/>
<line x1="295" y1="189.9" x2="299" y2="189.9" stroke="#d8bfd8" stroke-dasharray="3 3"/>
<line x1="299" y1="140.4" x2="303" y2="141.0" stroke="#f4a460" stroke-dasharray="3 3"/>
<line x1="299" y1="189.9" x2="303" y2="189.9" stroke="#d8bfd8" stroke-dasharray="3 3"/>
<line x1="303" y1="141.0" x2="307" y2="144.2" stroke="#f4a460" stroke-dasharray="3 3"/>
<line x1="303" y1="189.9" x2="307" y2="189.9" stroke="#d8bfd8" stroke-dasharray="3 3"/>
<line x1="307" y1="144.2" x2="311" y2="144.9" stroke="#f4a460" stroke-dasharray="3 3"/>
<line x1="307" y1="189.9" x2="311" y2="189.9" stroke="#d8bfd8" stroke-dasharray="3 3"/>
<line x1="311" y1="144.9" x2="315" y2="145.2" stroke="#f4a460" stroke-dasharray="3 3"/>
<line x1="311" y1="189.9" x2="315" y2="189.9" stroke="#d8bfd8" stroke-dasharray="3 3"/>
<line x1="315" y1="145.2" x2="319" y2="145.5" stroke="#f4a460" stroke-dasharray="3 3"/>
<line x1="315" y1="189.9" x2="319" y2="189.9" stroke="#d8bfd8" stroke-dasharray="3 3"/>
<line x1="319" y1="145.5" x2="323" y2="147.8" stroke="#f4a460" stroke-dasharray="3 3"/>
<line x1="319" y1="189.9" x2="323" y2="189.9" stroke="#d8bfd8" stroke-dasharray="3 3"/>
<line x1="323" y1="147.8" x2="327" y2="154.2" stroke="#f4a460" stroke-dasharray="3 3"/>
<line x1="323" y1="189.9" x2="327" y2="189.9" stroke="#d8bfd8" stroke-dasharray="3 3"/>
<line x1="327" y1="154.2" x2="331" y2="152.0" stroke="#f4a460" stroke-dasharray="3 3"/>
<line x1="327" y1="189.9" x2="331" y2="189.9" stroke="#d8bfd8" stroke-dasharray="3 3"/>
<line x1="331" y1="152.0" x2="335" y2="148.0" stroke="#f4a460" stroke-dasharray="3 3"/>
<line x1="331" y1="189.9" x2="335" y2="189.9" stroke="#d8bfd8" stroke-dasharray="3 3"/>
<line x1="335" y1="148.0" x2="339" y2="147.9" stroke="#f4a460" stroke-dasharray="3 3"/>
<line x1="335" y1="189.9" x2="339" y2="189.9" stroke="#d8bfd8" stroke-dasharray="3 3"/>
<line x1="339" y1="147.9" x2="343" y2="147.8" stroke="#f4a460" stroke-dasharray="3 3"/>
<line x1="339" y1="189.9" x2="343" y2="190.0" stroke="#d8bfd8" stroke-dasharray="3 3"/>
<line x1="343" y1="147.8" x2="347" y2="147.7" stroke="#f4a460" stroke-dasharray="3 3"/>
<line x1="343" y1="190.0" x2="347" y2="190.0" stroke="#d8bfd8" stroke-dasharray="3 3"/>
<line x1="347" y1="147.7" x2="351" y2="154.2" stroke="#f4a460" stroke-dasharray="3 3"/>
<line x1="347" y1="190.0" x2="351" y2="190.0" stroke="#d8bfd8" stroke-dasharray="3 3"/>
<line x1="351" y1="154.2" x2="355" y2="165.1" stroke="#f4a460" stroke-dasharray="3 3"/>
<line x1="351" y1="190.0" x2="355" y2="190.0" stroke="#d8bfd8" stroke-dasharray="3 3"/>
<line x1="355" y1="165.1" x2="359" y2="175.2" stroke="#f4a460" stroke-dasharray="3 3"/>
<line x1="355" y1="190.0" x2="359" y2="190.0" stroke="#d8bfd8" stroke-dasharray="3 3"/>
<line x1="359" y1="175.2" x2="363" y2="176.5" stroke="#f4a460" stroke-dasharray="3 3"/>
<line x1="359" y1="190.0" x2="363" y2="190.0" stroke="#d8bfd8" stroke-dasharray="3 3"/>
<line x1="363" y1="176.5" x2="367" y2="177.8" stroke="#f4a460" stroke-dasharray="3 3"/>
<line x1="363" y1="190.0" x2="367" y2="186.5" stroke="#d8bfd8" stroke-dasharray="3 3"/>
<line x1="367" y1="177.8" x2="371" y2="186.3" stroke="#f4a460" stroke-dasharray="3 3"/>
<line x1="367" y1="186.5" x2="371" y2="182.1" stroke="#d8bfd8" stroke-dasharray="3 3"/>
<line x1="371" y1="186.3" x2="375" y2="193.5" stroke="#f4a460" stroke-dasharray="3 3"/>
<line x1="371" y1="182.1" x2="375" y2="181.8" stroke="#d8bfd8" stroke-dasharray="3 3"/>
<line x1="375" y1="193.5" x2="379" y2="195.2" stroke="#f4a460" stroke-dasharray="3 3"/>
<line x1="375" y1="181.8" x2="379" y2="182.1" stroke="#d8bfd8" stroke-dasharray="3 3"/>
<line x1="379" y1="195.2" x2="383" y2="199.4" stroke="#f4a460" stroke-dasharray="3 3"/>
<line x1="379" y1="182.1" x2="383" y2="182.5" stroke="#d8bfd8" stroke-dasharray="3 3"/>
<line x1="383" y1="199.4" x2="387" y2="206.9" stroke="#f4a460" stroke-dasharray="3 3"/>
<line x1="383" y1="182.5" x2="387" y2="183.0" stroke="#d8bfd8" stroke-dasharray="3 3"/>
<line x1="387" y1="206.9" x2="391" y2="218.2" stroke="#f4a460" stroke-dasharray="3 3"/>
<line x1="387" y1="183.0" x2="391" y2="184.1" stroke="#d8bfd8" stroke-dasharray="3 3"/>
<line x1="391" y1="218.2" x2="395" y2="229.3" stroke="#f4a460" stroke-dasharray="3 3"/>
<line x1="391" y1="184.1" x2="395" y2="185.5" stroke="#d8bfd8" stroke-dasharray="3 3"/>
<line x1="395" y1="229.3" x2="399" y2="240.2" stroke="#f4a460" stroke-dasharray="3 3"/>
<line x1="395" y1="185.5" x2="399" y2="195.9" stroke="#d8bfd8" stroke-dasharray="3 3"/>
<line x1="399" y1="240.2" x2="403" y2="244.9" stroke="#f4a460" stroke-dasharray="3 3"/>
<line x1="399" y1="195.9" x2="403" y2="197.3" stroke="#d8bfd8" stroke-dasharray="3 3"/>
<line x1="403" y1="244.9" x2="407" y2="245.3" stroke="#f4a460" stroke-dasharray="3 3"/>
<line x1="403" y1="197.3" x2="407" y2="197.3" stroke="#d8bfd8" stroke-dasharray="3 3"/>
<line x1="407" y1="245.3" x2="411" y2="245.4" stroke="#f4a460" stroke-dasharray="3 3"/>
<line x1="407" y1="197.3" x2="411" y2="197.2" stroke="#d8bfd8" stroke-dasharray="3 3"/>
<line x1="411" y1="245.4" x2="415" y2="245.6" stroke="#f4a460" stroke-dasharray="3 3"/>
<line x1="411" y1="197.2" x2="415" y2="197.2" stroke="#d8bfd8" stroke-dasharray="3 3"/>
<line x1="415" y1="245.6" x2="419" y2="245.8" stroke="#f4a460" stroke-dasharray="3 3"/>
<line x1="415" y1="197.2" x2="419" y2="197.2" stroke="#d8bfd8" stroke-dasharray="3 3"/>
<line x1="419" y1="245.8" x2="423" y2="246.0" stroke="#f4a460" stroke-dasharray="3 3"/>
<line x1="419" y1="197.2" x2="423" y2="197.2" stroke="#d8bfd8" stroke-dasharray="3 3"/>
<line x1="423" y1="246.0" x2="427" y2="246.8" stroke="#f4a460" stroke-dasharray="3 3"/>
<line x1="423" y1="197.2" x2="427" y2="197.2" stroke="#d8bfd8" stroke-dasharray="3 3"/>
<line x1="427" y1="246.8" x2="431" y2="247.8" stroke="#f4a460" stroke-dasharray="3 3"/>
<line x1="427" y1="197.2" x2="431" y2="197.1" stroke="#d8bfd8" stroke-dasharray="3 3"/>
<line x1="431" y1="247.8" x2="435" y2="249.1" stroke="#f4a460" stroke-dasharray="3 3"/>
<line x1="431" y1="197.1" x2="435" y2="197.1" stroke="#d8bfd8" stroke-dasharray="3 3"/>
<line x1="435" y1="249.1" x2="439" y2="250.7" stroke="#f4a460" stroke-dasharray="3 3"/>
<line x1="435" y1="197.1" x2="439" y2="197.1" stroke="#d8bfd8" stroke-dasharray="3 3"/>
<line x1="439" y1="250.7" x2="443" y2="252.7" stroke="#f4a460" stroke-dasharray="3 3"/>
<line x1="439" y1="197.1" x2="443" y2="200.3" stroke="#d8bfd8" stroke-dasharray="3 3"/>
<line x1="443" y1="252.7" x2="447" y2="254.7" stroke="#f4a460" stroke-dasharray="3 3"/>
<line x1="443" y1="200.3" x2="447" y2="200.3" stroke="#d8bfd8" stroke-dasharray="3 3"/>
<line x1="447" y1="254.7" x2="451" y2="256.6" stroke="#f4a460" stroke-dasharray="3 3"/>
<line x1="447" y1="200.3" x2="451" y2="200.3" stroke="#d8bfd8" stroke-dasharray="3 3"/>
<line x1="451" y1="256.6" x2="455" y2="268.5" stroke="#f4a460" stroke-dasharray="3 3"/>
<line x1="451" y1="200.3" x2="455" y2="200.3" stroke="#d8bfd8" stroke-dasharray="3 3"/>
<line x1="455" y1="268.5" x2="459" y2="275.8" stroke="#f4a460" stroke-dasharray="3 3"/>
<line x1="455" y1="200.3" x2="459" y2="200.3" stroke="#d8bfd8" stroke-dasharray="3 3"/>
<line x1="459" y1="275.8" x2="463" y2="277.8" stroke="#f4a460" stroke-dasharray="3 3"/>
<line x1="459" y1="200.3" x2="463" y2="200.3" stroke="#d8bfd8" stroke-dasharray="3 3"/>
<line x1="463" y1="277.8" x2="467" y2="278.9" stroke="#f4a460" stroke-dasharray="3 3"/>
<line x1="463" y1="200.3" x2="467" y2="200.3" stroke="#d8bfd8" stroke-dasharray="3 3"/>
<line x1="467" y1="278.9" x2="471" y2="278.7" stroke="#f4a460" stroke-dasharray="3 3"/>
<line x1="467" y1="200.3" x2="471" y2="200.3" stroke="#d8bfd8" stroke-dasharray="3 3"/>
<line x1="471" y1="278.7" x2="475" y2="275.2" stroke="#f4a460" stroke-dasharray="3 3"/>
<line x1="471" y1="200.3" x2="475" y2="200.3" stroke="#d8bfd8" stroke-dasharray="3 3"/>
<line x1="475" y1="275.2" x2="479" y2="272.4" stroke="#f4a460" stroke-dasharray="3 3"/>
<line x1="475" y1="200.3" x2="479" y2="201.9" stroke="#d8bfd8" stroke-dasharray="3 3"/>
<line x1="479" y1="272.4" x2="483" y2="270.1" stroke="#f4a460" stroke-dasharray="3 3"/>
<line x1="479" y1="201.9" x2="483" y2="203.4" stroke="#d8bfd8" stroke-dasharray="3 3"/>
<line x1="483" y1="270.1" x2="487" y2="268.6" stroke="#f4a460" stroke-dasharray="3 3"/>
<line x1="483" y1="203.4" x2="487" y2="203.4" stroke="#d8bfd8" stroke-dasharray="3 3"/>
<line x1="487" y1="268.6" x2="491" y2="268.2" stroke="#f4a460" stroke-dasharray="3 3"/>
<line x1="487" y1="203.4" x2="491" y2="203.4" stroke="#d8bfd8" stroke-dasharray="3 3"/>
<line x1="491" y1="268.2" x2="495" y2="268.1" stroke="#f4a460" stroke-dasharray="3 3"/>
<line x1="491" y1="203.4" x2="495" y2="203.4" stroke="#d8bfd8" stroke-dasharray="3 3"/>
<line x1="495" y1="268.1" x2="499" y2="268.1" stroke="#f4a460" stroke-dasharray="3 3"/>
<line x1="495" y1="203.4" x2="499" y2="203.4" stroke="#d8bfd8" stroke-dasharray="3 3"/>
<line x1="499" y1="268.1" x2="503" y2="268.0" stroke="#f4a460" stroke-dasharray="3 3"/>
<line x1="499" y1="203.4" x2="503" y2="203.4" stroke="#d8bfd8" stroke-dasharray="3 3"/>
<line x1="503" y1="268.0" x2="507" y2="268.0" stroke="#f4a460" stroke-dasharray="3 3"/>
<line x1="503" y1="203.4" x2="507" y2="203.4" stroke="#d8bfd8" stroke-dasharray="3 3"/>
<line x1="507" y1="268.0" x2="511" y2="268.8" stroke="#f4a460" stroke-dasharray="3 3"/>
<line x1="507" y1="203.4" x2="511" y2="203.4" stroke="#d8bfd8" stroke-dasharray="3 3"/>
<line x1="511" y1="268.8" x2="515" y2="269.8" stroke="#f4a460" stroke-dasharray="3 3"/>
<line x1="511" y1="203.4" x2="515" y2="208.0" stroke="#d8bfd8" stroke-dasharray="3 3"/>
<line x1="515" y1="269.8" x2="519" y2="269.6" stroke="#f4a460" stroke-dasharray="3 3"/>
<line x1="515" y1="208.0" x2="519" y2="214.2" stroke="#d8bfd8" stroke-dasharray="3 3"/>
<line x1="519" y1="269.6" x2="523" y2="269.0" stroke="#f4a460" stroke-dasharray="3 3"/>
<line x1="519" y1="214.2" x2="523" y2="214.2" stroke="#d8bfd8" stroke-dasharray="3 3"/>
<line x1="523" y1="269.0" x2="527" y2="268.4" stroke="#f4a460" stroke-dasharray="3 3"/>
<line x1="523" y1="214.2" x2="527" y2="214.2" stroke="#d8bfd8" stroke-dasharray="3 3"/>
<line x1="527" y1="268.4" x2="531" y2="267.9" stroke="#f4a460" stroke-dasharray="3 3"/>
<line x1="527" y1="214.2" x2="531" y2="214.2" stroke="#d8bfd8" stroke-dasharray="3 3"/>
<line x1="531" y1="267.9" x2="535" y2="267.3" stroke="#f4a460" stroke-dasharray="3 3"/>
<line x1="531" y1="214.2" x2="535" y2="214.2" stroke="#d8bfd8" stroke-dasharray="3 3"/>
<line x1="535" y1="267.3" x2="539" y2="265.2" stroke="#f4a460" stroke-dasharray="3 3"/>
<line x1="535" y1="214.2" x2="539" y2="215.5" stroke="#d8bfd8" stroke-dasharray="3 3"/>
<line x1="539" y1="265.2" x2="543" y2="261.5" stroke="#f4a460" stroke-dasharray="3 3"/>
<line x1="539" y1="215.5" x2="543" y2="220.8" stroke="#d8bfd8" stroke-dasharray="3 3"/>
<line x1="543" y1="261.5" x2="547" y2="258.6" stroke="#f4a460" stroke-dasharray="3 3"/>
<line x1="543" y1="220.8" x2="547" y2="222.5" stroke="#d8bfd8" stroke-dasharray="3 3"/>
<line x1="547" y1="258.6" x2="551" y2="256.4" stroke="#f4a460" stroke-dasharray="3 3"/>
<line x1="547" y1="222.5" x2="551" y2="223.3" stroke="#d8bfd8" stroke-dasharray="3 3"/>
<line x1="551" y1="256.4" x2="555" y2="254.2" stroke="#f4a460" stroke-dasharray="3 3"/>
<line x1="551" y1="223.3" x2="555" y2="229.0" stroke="#d8bfd8" stroke-dasharray="3 3"/>
<line x1="555" y1="254.2" x2="559" y2="252.0" stroke="#f4a460" stroke-dasharray="3 3"/>
<line x1="555" y1="229.0" x2="559" y2="258.9" stroke="#d8bfd8" stroke-dasharray="3 3"/>
<line x1="559" y1="252.0" x2="563" y2="249.4" stroke="#f4a460" stroke-dasharray="3 3"/>
<line x1="559" y1="258.9" x2="563" y2="261.5" stroke="#d8bfd8" stroke-dasharray="3 3"/>
<line x1="563" y1="249.4" x2="567" y2="245.9" stroke="#f4a460" stroke-dasharray="3 3"/>
<line x1="563" y1="261.5" x2="567" y2="261.5" stroke="#d8bfd8" stroke-dasharray="3 3"/>
<line x1="567" y1="245.9" x2="571" y2="244.4" stroke="#f4a460" stroke-dasharray="3 3"/>
<line x1="567" y1="261.5" x2="571" y2="261.5" stroke="#d8bfd8" stroke-dasharray="3 3"/>
<line x1="571" y1="244.4" x2="575" y2="243.6" stroke="#f4a460" stroke-dasharray="3 3"/>
<line x1="571" y1="261.5" x2="575" y2="261.5" stroke="#d8bfd8" stroke-dasharray="3 3"/>
<line x1="575" y1="243.6" x2="579" y2="242.8" stroke="#f4a460" stroke-dasharray="3 3"/>
<line x1="575" y1="261.5" x2="579" y2="261.5" stroke="#d8bfd8" stroke-dasharray="3 3"/>
<line x1="579" y1="242.8" x2="583" y2="242.0" stroke="#f4a460" stroke-dasharray="3 3"/>
<line x1="579" y1="261.5" x2="583" y2="258.1" stroke="#d8bfd8" stroke-dasharray="3 3"/>
<line x1="583" y1="242.0" x2="587" y2="241.1" stroke="#f4a460" stroke-dasharray="3 3"/>
<line x1="583" y1="258.1" x2="587" y2="255.9" stroke="#d8bfd8" stroke-dasharray="3 3"/>
<line x1="587" y1="241.1" x2="591" y2="240.3" stroke="#f4a460" stroke-dasharray="3 3"/>
<line x1="587" y1="255.9" x2="591" y2="255.7" stroke="#d8bfd8" stroke-dasharray="3 3"/>
<line x1="591" y1="240.3" x2="595" y2="239.6" stroke="#f4a460" stroke-dasharray="3 3"/>
<line x1="591" y1="255.7" x2="595" y2="255.6" stroke="#d8bfd8" stroke-dasharray="3 3"/>
<line x1="595" y1="239.6" x2="599" y2="239.2" stroke="#f4a460" stroke-dasharray="3 3"/>
<line x1="595" y1="255.6" x2="599" y2="255.4" stroke="#d8bfd8" stroke-dasharray="3 3"/>
<line x1="599" y1="239.2" x2="603" y2="238.8" stroke="#f4a460" stroke-dasharray="3 3"/>
<line x1="599" y1="255.4" x2="603" y2="255.2" stroke="#d8bfd8" stroke-dasharray="3 3"/>
<line x1="603" y1="238.8" x2="607" y2="238.4" stroke="#f4a460" stroke-dasharray="3 3"/>
<line x1="603" y1="255.2" x2="607" y2="253.5" stroke="#d8bfd8" stroke-dasharray="3 3"/>
<line x1="607" y1="238.4" x2="611" y2="235.3" stroke="#f4a460" stroke-dasharray="3 3"/>
<line x1="607" y1="253.5" x2="611" y2="251.5" stroke="#d8bfd8" stroke-dasharray="3 3"/>
<line x1="611" y1="235.3" x2="615" y2="223.0" stroke="#f4a460" stroke-dasharray="3 3"/>
<line x1="611" y1="251.5" x2="615" y2="241.2" stroke="#d8bfd8" stroke-dasharray="3 3"/>
<line x1="615" y1="223.0" x2="619" y2="225.0" stroke="#f4a460" stroke-dasharray="3 3"/>
<line x1="615" y1="241.2" x2="619" y2="241.2" stroke="#d8bfd8" stroke-dasharray="3 3"/>
<line x1="619" y1="225.0" x2="623" y2="227.2" stroke="#f4a460" stroke-dasharray="3 3"/>
<line x1="619" y1="241.2" x2="623" y2="241.2" stroke="#d8bfd8" stroke-dasharray="3 3"/>
<line x1="623" y1="227.2" x2="627" y2="227.8" stroke="#f4a460" stroke-dasharray="3 3"/>
<line x1="623" y1="241.2" x2="627" y2="241.2" stroke="#d8bfd8" stroke-dasharray="3 3"/>
<line x1="627" y1="227.8" x2="631" y2="233.9" stroke="#f4a460" stroke-dasharray="3 3"/>
<line x1="627" y1="241.2" x2="631" y2="241.2" stroke="#d8bfd8" stroke-dasharray="3 3"/>
<line x1="631" y1="233.9" x2="635" y2="234.1" stroke="#f4a460" stroke-dasharray="3 3"/>
<line x1="631" y1="241.2" x2="635" y2="241.2" stroke="#d8bfd8" stroke-dasharray="3 3"/>
<line x1="635" y1="234.1" x2="639" y2="234.4" stroke="#f4a460" stroke-dasharray="3 3"/>
<line x1="635" y1="241.2" x2="639" y2="241.2" stroke="#d8bfd8" stroke-dasharray="3 3"/>
<line x1="639" y1="234.4" x2="643" y2="234.6" stroke="#f4a460" stroke-dasharray="3 3"/>
<line x1="639" y1="241.2" x2="643" y2="241.2" stroke="#d8bfd8" stroke-dasharray="3 3"/>
<rect x="3" y="235" width="1" height="20" fill="#ff0000"/>
<rect x="2" y="235" width="3" height="20" fill="#ff0000"/>
<rect x="7" y="230" width="1" height="24" fill="#2f4f4f"/>
<rect x="6" y="238" width="3" height="12" fill="#2f4f4f"/>
<rect x="7" y="239" width="1" height="10" fill="#3cb371"/>
<rect x="11" y="230" width="1" height="15" fill="#2f4f4f"/>
<rect x="10" y="235" width="3" height="4" fill="#2f4f4f"/>
<rect x="11" y="236" width="1" height="2" fill="#3cb371"/>
<rect x="15" y="229" width="1" height="13" fill="#2f4f4f"/>
<rect x="14" y="230" width="3" height="6" fill="#2f4f4f"/>
<rect x="15" y="231" width="1" height="4" fill="#3cb371"/>
<rect x="19" y="230" width="1" height="16" fill="#ff0000"/>
<rect x="18" y="230" width="3" height="15" fill="#ff0000"/>
<rect x="23" y="230" width="1" height="19" fill="#2f4f4f"/>
<rect x="22" y="230" width="3" height="14" fill="#2f4f4f"/>
<rect x="23" y="231" width="1" height="12" fill="#3cb371"/>
<rect x="27" y="227" width="1" height="11" fill="#ff0000"/>
<rect x="26" y="229" width="3" height="4" fill="#ff0000"/>
<rect x="31" y="211" width="1" height="26" fill="#2f4f4f"/>
<rect x="30" y="216" width="3" height="17" fill="#2f4f4f"/>
<rect x="31" y="217" width="1" height="15" fill="#3cb371"/>
<rect x="35" y="215" width="1" height="52" fill="#ff0000"/>
<rect x="34" y="216" width="3" height="49" fill="#ff0000"/>
<rect x="39" y="260" width="1" height="16" fill="#ff0000"/>
<rect x="38" y="263" width="3" height="10" fill="#ff0000"/>
<rect x="43" y="261" width="1" height="23" fill="#2f4f4f"/>
<rect x="42" y="269" width="3" height="4" fill="#2f4f4f"/>
<rect x="43" y="270" width="1" height="2" fill="#3cb371"/>
<rect x="47" y="254" width="1" height="29" fill="#ff0000"/>
<rect x="46" y="268" width="3" height="13" fill="#ff0000"/>
<rect x="51" y="271" width="1" height="17" fill="#2f4f4f"/>
<rect x="50" y="275" width="3" height="6" fill="#2f4f4f"/>
<rect x="51" y="276" width="1" height="4" fill="#3cb371"/>
<rect x="55" y="273" width="1" height="19" fill="#ff0000"/>
<rect x="54" y="275" width="3" height="10" fill="#ff0000"/>
<rect x="59" y="256" width="1" height="28" fill="#2f4f4f"/>
<rect x="58" y="270" width="3" height="14" fill="#2f4f4f"/>
<rect x="59" y="271" width="1" height="12" fill="#3cb371"/>
<rect x="63" y="261" width="1" height="15" fill="#2f4f4f"/>
<rect x="62" y="269" width="3" height="4" fill="#2f4f4f"/>
<rect x="63" y="270" width="1" height="2" fill="#3cb371"/>
<rect x="67" y="233" width="1" height="39" fill="#2f4f4f"/>
<rect x="66" y="235" width="3" height="36" fill="#2f4f4f"/>
<rect x="67" y="236" width="1" height="34" fill="#3cb371"/>
<rect x="71" y="195" width="1" height="42" fill="#2f4f4f"/>
<rect x="70" y="197" width="3" height="39" fill="#2f4f4f"/>
<rect x="71" y="198" width="1" height="37" fill="#3cb371"/>
<rect x="75" y="191" width="1" height="12" fill="#2f4f4f"/>
<rect x="74" y="192" width="3" height="7" fill="#2f4f4f"/>
<rect x="75" y="193" width="1" height="5" fill="#3cb371"/>
<rect x="79" y="176" width="1" height="28" fill="#2f4f4f"/>
<rect x="78" y="181" width="3" height="20" fill="#2f4f4f"/>
<rect x="79" y="182" width="1" height="18" fill="#3cb371"/>
<rect x="83" y="174" width="1" height="17" fill="#ff0000"/>
<rect x="82" y="181" width="3" height="6" fill="#ff0000"/>
<rect x="87" y="182" width="1" height="17" fill="#ff0000"/>
<rect x="86" y="185" width="3" height="10" fill="#ff0000"/>
<rect x="91" y="190" width="1" height="16" fill="#ff0000"/>
<rect x="90" y="193" width="3" height="11" fill="#ff0000"/>
<rect x="95" y="201" width="1" height="14" fill="#ff0000"/>
<rect x="94" y="203" width="3" height="7" fill="#ff0000"/>
<rect x="99" y="202" width="1" height="12" fill="#ff0000"/>
<rect x="98" y="208" width="3" height="3" fill="#ff0000"/>
<rect x="103" y="209" width="1" height="27" fill="#ff0000"/>
<rect x="102" y="209" width="3" height="12" fill="#ff0000"/>
<rect x="107" y="203" width="1" height="19" fill="#2f4f4f"/>
<rect x="106" y="210" width="3" height="11" fill="#2f4f4f"/>
<rect x="107" y="211" width="1" height="9" fill="#3cb371"/>
<rect x="111" y="199" width="1" height="18" fill="#2f4f4f"/>
<rect x="110" y="208" width="3" height="4" fill="#2f4f4f"/>
<rect x="111" y="209" width="1" height="2" fill="#3cb371"/>
<rect x="115" y="203" width="1" height="16" fill="#ff0000"/>
<rect x="114" y="208" width="3" height="7" fill="#ff0000"/>
<rect x="119" y="212" width="1" height="18" fill="#ff0000"/>
<rect x="118" y="213" width="3" height="9" fill="#ff0000"/>
<rect x="123" y="217" width="1" height="10" fill="#2f4f4f"/>
<rect x="122" y="218" width="3" height="4" fill="#2f4f4f"/>
<rect x="123" y="219" width="1" height="2" fill="#3cb371"/>
<rect x="127" y="188" width="1" height="37" fill="#2f4f4f"/>
<rect x="126" y="188" width="3" height="31" fill="#2f4f4f"/>
<rect x="127" y="189" width="1" height="29" fill="#3cb371"/>
<rect x="131" y="176" width="1" height="17" fill="#2f4f4f"/>
<rect x="130" y="178" width="3" height="12" fill="#2f4f4f"/>
<rect x="131" y="179" width="1" height="10" fill="#3cb371"/>
<rect x="135" y="174" width="1" height="13" fill="#2f4f4f"/>
<rect x="134" y="175" width="3" height="4" fill="#2f4f4f"/>
<rect x="135" y="176" width="1" height="2" fill="#3cb371"/>
<rect x="139" y="172" width="1" height="19" fill="#ff0000"/>
<rect x="138" y="174" width="3" height="17" fill="#ff0000"/>
<rect x="143" y="178" width="1" height="19" fill="#2f4f4f"/>
<rect x="142" y="181" width="3" height="9" fill="#2f4f4f"/>
<rect x="143" y="182" width="1" height="7" fill="#3cb371"/>
<rect x="147" y="111" width="1" height="74" fill="#2f4f4f"/>
<rect x="146" y="134" width="3" height="49" fill="#2f4f4f"/>
<rect x="147" y="135" width="1" height="47" fill="#3cb371"/>
<rect x="151" y="118" width="1" height="23" fill="#2f4f4f"/>
<rect x="150" y="128" width="3" height="7" fill="#2f4f4f"/>
<rect x="151" y="129" width="1" height="5" fill="#3cb371"/>
<rect x="155" y="111" width="1" height="20" fill="#2f4f4f"/>
<rect x="154" y="115" width="3" height="15" fill="#2f4f4f"/>
<rect x="155" y="116" width="1" height="13" fill="#3cb371"/>
<rect x="159" y="107" width="1" height="17" fill="#2f4f4f"/>
<rect x="158" y="113" width="3" height="4" fill="#2f4f4f"/>
<rect x="159" y="114" width="1" height="2" fill="#3cb371"/>
<rect x="163" y="102" width="1" height="19" fill="#2f4f4f"/>
<rect x="162" y="109" width="3" height="6" fill="#2f4f4f"/>
<rect x="163" y="110" width="1" height="4" fill="#3cb371"/>
<rect x="167" y="90" width="1" height="27" fill="#ff0000"/>
<rect x="166" y="109" width="3" height="4" fill="#ff0000"/>
<rect x="171" y="108" width="1" height="17" fill="#ff0000"/>
<rect x="170" y="111" width="3" height="3" fill="#ff0000"/>
<rect x="175" y="105" width="1" height="35" fill="#ff0000"/>
<rect x="174" y="112" width="3" height="26" fill="#ff0000"/>
<rect x="179" y="129" width="1" height="17" fill="#ff0000"/>
<rect x="178" y="138" width="3" height="7" fill="#ff0000"/>
<rect x="183" y="124" width="1" height="22" fill="#2f4f4f"/>
<rect x="182" y="126" width="3" height="17" fill="#2f4f4f"/>
<rect x="183" y="127" width="1" height="15" fill="#3cb371"/>
<rect x="187" y="100" width="1" height="32" fill="#2f4f4f"/>
<rect x="186" y="114" width="3" height="13" fill="#2f4f4f"/>
<rect x="187" y="115" width="1" height="11" fill="#3cb371"/>
<rect x="191" y="114" width="1" height="27" fill="#ff0000"/>
<rect x="190" y="114" width="3" height="8" fill="#ff0000"/>
<rect x="195" y="119" width="1" height="16" fill="#ff0000"/>
<rect x="194" y="120" width="3" height="13" fill="#ff0000"/>
<rect x="199" y="128" width="1" height="24" fill="#ff0000"/>
<rect x="198" y="135" width="3" height="9" fill="#ff0000"/>
<rect x="203" y="136" width="1" height="21" fill="#ff0000"/>
<rect x="202" y="142" width="3" height="7" fill="#ff0000"/>
<rect x="207" y="141" width="1" height="17" fill="#ff0000"/>
<rect x="206" y="146" width="3" height="7" fill="#ff0000"/>
<rect x="211" y="148" width="1" height="15" fill="#ff0000"/>
<rect x="210" y="151" width="3" height="9" fill="#ff0000"/>
<rect x="215" y="157" width="1" height="12" fill="#ff0000"/>
<rect x="214" y="158" width="3" height="5" fill="#ff0000"/>
<rect x="219" y="152" width="1" height="14" fill="#2f4f4f"/>
<rect x="218" y="154" width="3" height="9" fill="#2f4f4f"/>
<rect x="219" y="155" width="1" height="7" fill="#3cb371"/>
<rect x="223" y="151" width="1" height="34" fill="#ff0000"/>
<rect x="222" y="154" width="3" height="24" fill="#ff0000"/>
<rect x="227" y="118" width="1" height="61" fill="#2f4f4f"/>
<rect x="226" y="121" width="3" height="56" fill="#2f4f4f"/>
<rect x="227" y="122" width="1" height="54" fill="#3cb371"/>
<rect x="231" y="120" width="1" height="23" fill="#ff0000"/>
<rect x="230" y="120" width="3" height="20" fill="#ff0000"/>
<rect x="235" y="130" width="1" height="15" fill="#ff0000"/>
<rect x="234" y="138" width="3" height="3" fill="#ff0000"/>
<rect x="239" y="135" width="1" height="16" fill="#ff0000"/>
<rect x="238" y="139" width="3" height="8" fill="#ff0000"/>
<rect x="243" y="142" width="1" height="11" fill="#ff0000"/>
<rect x="242" y="145" width="3" height="2" fill="#ff0000"/>
<rect x="247" y="136" width="1" height="71" fill="#ff0000"/>
<rect x="246" y="146" width="3" height="50" fill="#ff0000"/>
<rect x="251" y="193" width="1" height="35" fill="#ff0000"/>
<rect x="250" y="193" width="3" height="34" fill="#ff0000"/>
<rect x="255" y="223" width="1" height="27" fill="#ff0000"/>
<rect x="254" y="224" width="3" height="13" fill="#ff0000"/>
<rect x="259" y="233" width="1" height="11" fill="#ff0000"/>
<rect x="258" y="236" width="3" height="4" fill="#ff0000"/>
<rect x="263" y="235" width="1" height="15" fill="#ff0000"/>
<rect x="262" y="239" width="3" height="6" fill="#ff0000"/>
<rect x="267" y="244" width="1" height="22" fill="#ff0000"/>
<rect x="266" y="245" width="3" height="21" fill="#ff0000"/>
<rect x="271" y="256" width="1" height="17" fill="#ff0000"/>
<rect x="270" y="264" width="3" height="4" fill="#ff0000"/>
<rect x="275" y="256" width="1" height="20" fill="#ff0000"/>
<rect x="274" y="266" width="3" height="9" fill="#ff0000"/>
<rect x="279" y="264" width="1" height="13" fill="#2f4f4f"/>
<rect x="278" y="269" width="3" height="6" fill="#2f4f4f"/>
<rect x="279" y="270" width="1" height="4" fill="#3cb371"/>
<rect x="283" y="254" width="1" height="17" fill="#2f4f4f"/>
<rect x="282" y="261" width="3" height="10" fill="#2f4f4f"/>
<rect x="283" y="262" width="1" height="8" fill="#3cb371"/>
<rect x="287" y="253" width="1" height="27" fill="#ff0000"/>
<rect x="286" y="261" width="3" height="18" fill="#ff0000"/>
<rect x="291" y="263" width="1" height="16" fill="#2f4f4f"/>
<rect x="290" y="268" width="3" height="11" fill="#2f4f4f"/>
<rect x="291" y="269" width="1" height="9" fill="#3cb371"/>
<rect x="295" y="267" width="1" height="39" fill="#ff0000"/>
<rect x="294" y="268" width="3" height="32" fill="#ff0000"/>
<rect x="299" y="285" width="1" height="19" fill="#2f4f4f"/>
<rect x="298" y="286" width="3" height="14" fill="#2f4f4f"/>
<rect x="299" y="287" width="1" height="12" fill="#3cb371"/>
<rect x="303" y="276" width="1" height="16" fill="#ff0000"/>
<rect x="302" y="287" width="3" height="4" fill="#ff0000"/>
<rect x="307" y="268" width="1" height="25" fill="#2f4f4f"/>
<rect x="306" y="276" width="3" height="15" fill="#2f4f4f"/>
<rect x="307" y="277" width="1" height="13" fill="#3cb371"/>
<rect x="311" y="267" width="1" height="16" fill="#2f4f4f"/>
<rect x="310" y="274" width="3" height="3" fill="#2f4f4f"/>
<rect x="311" y="275" width="1" height="1" fill="#3cb371"/>
<rect x="315" y="272" width="1" height="13" fill="#ff0000"/>
<rect x="314" y="274" width="3" height="8" fill="#ff0000"/>
<rect x="319" y="262" width="1" height="23" fill="#2f4f4f"/>
<rect x="318" y="270" width="3" height="12" fill="#2f4f4f"/>
<rect x="319" y="271" width="1" height="10" fill="#3cb371"/>
<rect x="323" y="266" width="1" height="13" fill="#ff0000"/>
<rect x="322" y="269" width="3" height="7" fill="#ff0000"/>
<rect x="327" y="263" width="1" height="24" fill="#ff0000"/>
<rect x="326" y="274" width="3" height="12" fill="#ff0000"/>
<rect x="331" y="281" width="1" height="20" fill="#ff0000"/>
<rect x="330" y="284" width="3" height="11" fill="#ff0000"/>
<rect x="335" y="291" width="1" height="16" fill="#ff0000"/>
<rect x="334" y="293" width="3" height="11" fill="#ff0000"/>
<rect x="339" y="300" width="1" height="10" fill="#ff0000"/>
<rect x="338" y="302" width="3" height="3" fill="#ff0000"/>
<rect x="343" y="286" width="1" height="26" fill="#2f4f4f"/>
<rect x="342" y="287" width="3" height="17" fill="#2f4f4f"/>
<rect x="343" y="288" width="1" height="15" fill="#3cb371"/>
<rect x="347" y="280" width="1" height="21" fill="#ff0000"/>
<rect x="346" y="286" width="3" height="7" fill="#ff0000"/>
<rect x="351" y="280" width="1" height="13" fill="#2f4f4f"/>
<rect x="350" y="286" width="3" height="7" fill="#2f4f4f"/>
<rect x="351" y="287" width="1" height="5" fill="#3cb371"/>
<rect x="355" y="273" width="1" height="18" fill="#2f4f4f"/>
<rect x="354" y="277" width="3" height="11" fill="#2f4f4f"/>
<rect x="355" y="278" width="1" height="9" fill="#3cb371"/>
<rect x="359" y="272" width="1" height="16" fill="#2f4f4f"/>
<rect x="358" y="272" width="3" height="7" fill="#2f4f4f"/>
<rect x="359" y="273" width="1" height="5" fill="#3cb371"/>
<rect x="363" y="266" width="1" height="11" fill="#ff0000"/>
<rect x="362" y="272" width="3" height="4" fill="#ff0000"/>
<rect x="367" y="246" width="1" height="32" fill="#2f4f4f"/>
<rect x="366" y="258" width="3" height="16" fill="#2f4f4f"/>
<rect x="367" y="259" width="1" height="14" fill="#3cb371"/>
<rect x="371" y="236" width="1" height="27" fill="#2f4f4f"/>
<rect x="370" y="240" width="3" height="19" fill="#2f4f4f"/>
<rect x="371" y="241" width="1" height="17" fill="#3cb371"/>
<rect x="375" y="238" width="1" height="21" fill="#ff0000"/>
<rect x="374" y="239" width="3" height="16" fill="#ff0000"/>
<rect x="379" y="250" width="1" height="18" fill="#ff0000"/>
<rect x="378" y="254" width="3" height="13" fill="#ff0000"/>
<rect x="383" y="250" width="1" height="18" fill="#ff0000"/>
<rect x="382" y="264" width="3" height="3" fill="#ff0000"/>
<rect x="387" y="263" width="1" height="20" fill="#ff0000"/>
<rect x="386" y="265" width="3" height="17" fill="#ff0000"/>
<rect x="391" y="263" width="1" height="21" fill="#2f4f4f"/>
<rect x="390" y="265" width="3" height="17" fill="#2f4f4f"/>
<rect x="391" y="266" width="1" height="15" fill="#3cb371"/>
<rect x="395" y="246" width="1" height="26" fill="#2f4f4f"/>
<rect x="394" y="249" width="3" height="17" fill="#2f4f4f"/>
<rect x="395" y="250" width="1" height="15" fill="#3cb371"/>
<rect x="399" y="240" width="1" height="30" fill="#ff0000"/>
<rect x="398" y="248" width="3" height="20" fill="#ff0000"/>
<rect x="403" y="248" width="1" height="22" fill="#2f4f4f"/>
<rect x="402" y="258" width="3" height="10" fill="#2f4f4f"/>
<rect x="403" y="259" width="1" height="8" fill="#3cb371"/>
<rect x="407" y="257" width="1" height="39" fill="#ff0000"/>
<rect x="406" y="257" width="3" height="11" fill="#ff0000"/>
<rect x="411" y="261" width="1" height="10" fill="#2f4f4f"/>
<rect x="410" y="264" width="3" height="3" fill="#2f4f4f"/>
<rect x="411" y="265" width="1" height="1" fill="#3cb371"/>
<rect x="415" y="262" width="1" height="27" fill="#ff0000"/>
<rect x="414" y="263" width="3" height="18" fill="#ff0000"/>
<rect x="419" y="274" width="1" height="11" fill="#2f4f4f"/>
<rect x="418" y="278" width="3" height="3" fill="#2f4f4f"/>
<rect x="419" y="279" width="1" height="1" fill="#3cb371"/>
<rect x="423" y="267" width="1" height="20" fill="#2f4f4f"/>
<rect x="422" y="269" width="3" height="10" fill="#2f4f4f"/>
<rect x="423" y="270" width="1" height="8" fill="#3cb371"/>
<rect x="427" y="253" width="1" height="20" fill="#2f4f4f"/>
<rect x="426" y="257" width="3" height="13" fill="#2f4f4f"/>
<rect x="427" y="258" width="1" height="11" fill="#3cb371"/>
<rect x="431" y="244" width="1" height="17" fill="#2f4f4f"/>
<rect x="430" y="246" width="3" height="14" fill="#2f4f4f"/>
<rect x="431" y="247" width="1" height="12" fill="#3cb371"/>
<rect x="435" y="224" width="1" height="24" fill="#2f4f4f"/>
<rect x="434" y="230" width="3" height="17" fill="#2f4f4f"/>
<rect x="435" y="231" width="1" height="15" fill="#3cb371"/>
<rect x="439" y="219" width="1" height="21" fill="#2f4f4f"/>
<rect x="438" y="220" width="3" height="19" fill="#2f4f4f"/>
<rect x="439" y="221" width="1" height="17" fill="#3cb371"/>
<rect x="443" y="214" width="1" height="15" fill="#ff0000"/>
<rect x="442" y="221" width="3" height="7" fill="#ff0000"/>
<rect x="447" y="217" width="1" height="14" fill="#2f4f4f"/>
<rect x="446" y="222" width="3" height="6" fill="#2f4f4f"/>
<rect x="447" y="223" width="1" height="4" fill="#3cb371"/>
<rect x="451" y="213" width="1" height="11" fill="#2f4f4f"/>
<rect x="450" y="217" width="3" height="6" fill="#2f4f4f"/>
<rect x="451" y="218" width="1" height="4" fill="#3cb371"/>
<rect x="455" y="214" width="1" height="32" fill="#ff0000"/>
<rect x="454" y="217" width="3" height="27" fill="#ff0000"/>
<rect x="459" y="238" width="1" height="7" fill="#2f4f4f"/>
<rect x="458" y="241" width="3" height="3" fill="#2f4f4f"/>
<rect x="459" y="242" width="1" height="1" fill="#3cb371"/>
<rect x="463" y="228" width="1" height="29" fill="#ff0000"/>
<rect x="462" y="241" width="3" height="4" fill="#ff0000"/>
<rect x="467" y="245" width="1" height="18" fill="#ff0000"/>
<rect x="466" y="245" width="3" height="11" fill="#ff0000"/>
<rect x="471" y="248" width="1" height="15" fill="#ff0000"/>
<rect x="470" y="254" width="3" height="9" fill="#ff0000"/>
<rect x="475" y="254" width="1" height="13" fill="#2f4f4f"/>
<rect x="474" y="257" width="3" height="5" fill="#2f4f4f"/>
<rect x="475" y="258" width="1" height="3" fill="#3cb371"/>
<rect x="479" y="201" width="1" height="58" fill="#2f4f4f"/>
<rect x="478" y="204" width="3" height="53" fill="#2f4f4f"/>
<rect x="479" y="205" width="1" height="51" fill="#3cb371"/>
<rect x="483" y="201" width="1" height="12" fill="#ff0000"/>
<rect x="482" y="204" width="3" height="8" fill="#ff0000"/>
<rect x="487" y="200" width="1" height="23" fill="#2f4f4f"/>
<rect x="486" y="200" width="3" height="12" fill="#2f4f4f"/>
<rect x="487" y="201" width="1" height="10" fill="#3cb371"/>
<rect x="491" y="199" width="1" height="18" fill="#ff0000"/>
<rect x="490" y="200" width="3" height="15" fill="#ff0000"/>
<rect x="495" y="205" width="1" height="18" fill="#ff0000"/>
<rect x="494" y="214" width="3" height="8" fill="#ff0000"/>
<rect x="499" y="209" width="1" height="16" fill="#2f4f4f"/>
<rect x="498" y="213" width="3" height="8" fill="#2f4f4f"/>
<rect x="499" y="214" width="1" height="6" fill="#3cb371"/>
<rect x="503" y="196" width="1" height="25" fill="#2f4f4f"/>
<rect x="502" y="200" width="3" height="15" fill="#2f4f4f"/>
<rect x="503" y="201" width="1" height="13" fill="#3cb371"/>
<rect x="507" y="193" width="1" height="24" fill="#ff0000"/>
<rect x="506" y="200" width="3" height="12" fill="#ff0000"/>
<rect x="511" y="171" width="1" height="56" fill="#ff0000"/>
<rect x="510" y="211" width="3" height="14" fill="#ff0000"/>
<rect x="515" y="206" width="1" height="64" fill="#ff0000"/>
<rect x="514" y="221" width="3" height="42" fill="#ff0000"/>
<rect x="519" y="239" width="1" height="44" fill="#ff0000"/>
<rect x="518" y="262" width="3" height="7" fill="#ff0000"/>
<rect x="523" y="253" width="1" height="18" fill="#2f4f4f"/>
<rect x="522" y="259" width="3" height="10" fill="#2f4f4f"/>
<rect x="523" y="260" width="1" height="8" fill="#3cb371"/>
<rect x="527" y="258" width="1" height="40" fill="#ff0000"/>
<rect x="526" y="258" width="3" height="31" fill="#ff0000"/>
<rect x="531" y="256" width="1" height="36" fill="#2f4f4f"/>
<rect x="530" y="279" width="3" height="10" fill="#2f4f4f"/>
<rect x="531" y="280" width="1" height="8" fill="#3cb371"/>
<rect x="535" y="254" width="1" height="31" fill="#2f4f4f"/>
<rect x="534" y="278" width="3" height="4" fill="#2f4f4f"/>
<rect x="535" y="279" width="1" height="2" fill="#3cb371"/>
<rect x="539" y="267" width="1" height="18" fill="#2f4f4f"/>
<rect x="538" y="270" width="3" height="9" fill="#2f4f4f"/>
<rect x="539" y="271" width="1" height="7" fill="#3cb371"/>
<polyline points="3.0,233.9 11.0,233.9 19.0,234.6 24.3,241.2 28.0,239.8 31.7,233.9 36.8,239.0 43.4,244.9 48.6,244.9 56.0,249.3 64.8,250.8 67.7,251.8 72.2,244.2 88.4,231.7 98.7,222.0 99.9,220.6 102.8,204.7 115.3,204.7 119.2,207.6 122.1,211.0 126.0,211.0 129.3,209.0 132.7,205.2 137.9,201.4 143.7,201.4 144.4,192.0 148.8,169.6 155.3,168.1 158.9,165.2 161.0,158.7 163.3,150.7 167.1,144.0 176.7,143.3 180.5,125.0 182.0,118.4 184.0,117.0 199.0,117.5 202.9,127.0 208.6,129.0 214.4,132.0 219.3,136.7 223.0,145.4 226.0,150.2 229.7,150.6 243.6,150.5 246.5,154.9 248.7,164.0 255.3,183.1 262.7,183.9 264.9,189.0 267.0,195.0 270.0,202.3 275.2,205.2 279.8,205.5 281.2,216.5 284.2,238.6 287.1,249.9 290.8,256.5 293.0,261.0 296.7,271.2 303.3,277.9 308.5,278.6 320.3,278.6 323.2,280.8 328.4,283.0 331.3,283.0 341.6,285.2 346.0,286.7 362.5,287.2 364.7,285.0 368.4,278.4 371.3,275.5 377.2,271.8 383.1,267.4 392.0,261.5 396.7,260.0 404.8,266.0 408.5,266.7 429.8,266.7 434.3,260.0 443.1,252.0 454.5,250.0 458.0,247.0 461.7,238.3 464.0,236.2 469.0,237.6 474.8,239.0 477.7,236.9 480.6,233.3 499.5,231.7 505.3,230.2 509.0,224.3 515.9,221.4 519.1,226.1 523.1,226.1 524.6,228.3 527.5,234.5 539.2,234.5" fill="none" stroke="#ff0000" stroke-width="1"/>
<polyline points="3.0,206.6 31.0,206.6 36.0,215.5 43.4,222.8 50.8,224.3 55.2,242.7 70.7,242.7 75.8,240.5 80.3,233.1 81.7,232.3 143.4,232.3 145.7,219.8 148.0,201.4 156.0,201.4 161.8,192.0 167.6,181.2 169.8,171.7 172.0,162.0 203.8,162.0 208.6,159.2 226.0,159.2 231.8,144.0 243.4,143.7 248.7,152.0 255.3,169.0 263.4,169.1 270.8,186.0 276.0,187.6 286.3,189.0 290.7,197.1 295.2,211.4 329.8,211.4 335.7,218.7 343.1,223.1 347.5,223.1 351.2,244.5 354.1,266.8 357.3,271.0 366.9,278.4 371.3,273.3 432.0,273.6 434.2,268.7 437.1,266.5 440.0,261.5 446.5,258.6 451.6,254.3 475.5,254.3 481.3,248.5 501.0,247.0 507.9,239.5 510.8,231.2 511.9,229.4 523.8,229.4 527.5,234.5 539.2,234.5" fill="none" stroke="#0000ff" stroke-width="1"/>
<g shape-rendering="geometricPrecision"><rect x="254.5" y="244.5" width="421" height="16" fill="#000" fill-opacity="0.28" filter="url(#blur)" mask="url(#rm)"/></g>
<rect x="254.5" y="244.5" width="421" height="16" fill="rgba(150,160,175,0.53)" stroke="#a9c6ea" stroke-width="1"/>
<line x1="106.2" y1="75.3" x2="755.6" y2="227.5" stroke="#a8c0ce" stroke-width="1.1" shape-rendering="geometricPrecision"/>
<line x1="48.8" y1="247.7" x2="697.7" y2="399.5" stroke="#a8c0ce" stroke-width="1.1" shape-rendering="geometricPrecision"/>
<line x1="226.4" y1="307.5" x2="558.6" y2="141.4" stroke="#a8c0ce" stroke-width="1.1" shape-rendering="geometricPrecision"/>
<line x1="322.4" y1="337.8" x2="653.8" y2="172.1" stroke="#a8c0ce" stroke-width="1.1" shape-rendering="geometricPrecision"/>
<g shape-rendering="geometricPrecision">
<line x1="544.5" y1="276" x2="559" y2="258" stroke="#475866" stroke-width="3.6" stroke-linecap="round"/>
<polygon points="564.6,251.5 551.9,256.9 562.8,264.8" fill="#475866"/>
<line x1="567" y1="252.5" x2="592.5" y2="356" stroke="#475866" stroke-width="3.6" stroke-linecap="round"/>
<polygon points="595.6,364.9 586,355.6 599.3,352.4" fill="#475866"/>
</g>
<g shape-rendering="geometricPrecision">
<defs><linearGradient id="lg" x1="0" y1="0" x2="0" y2="1"><stop offset="0" stop-color="#1a59a9"/><stop offset="1" stop-color="#0a4692"/></linearGradient></defs>
<path d="M715.5,41.5 H751.5 Q761,41.5 761,50.5 V58.5 Q761,67.8 752,67.8 H736 V60.8 H753.7 V50.6 H726 V86 H715.5 Z" fill="url(#lg)"/>
<path d="M736,76.3 H753 L757.5,85.5 H736 Z" fill="url(#lg)"/>
</g>
<rect x="2" y="2" width="1" height="392" fill="#000"/>
<rect x="2" y="2" width="768" height="1" fill="#000"/>
<rect x="769" y="2" width="1" height="392" fill="#000"/>
<rect x="2" y="393" width="768" height="1" fill="#000"/>
<g filter="url(#crisp)">
<rect x="769" y="27" width="3" height="1" fill="#000"/>
<text x="774.6" y="31" font-size="10.2" fill="#000" textLength="33" lengthAdjust="spacingAndGlyphs">0.73630</text>
<rect x="769" y="60" width="3" height="1" fill="#000"/>
<text x="774.6" y="64" font-size="10.2" fill="#000" textLength="33" lengthAdjust="spacingAndGlyphs">0.73270</text>
<rect x="769" y="93" width="3" height="1" fill="#000"/>
<text x="774.6" y="97" font-size="10.2" fill="#000" textLength="33" lengthAdjust="spacingAndGlyphs">0.72910</text>
<rect x="769" y="126" width="3" height="1" fill="#000"/>
<text x="774.6" y="130" font-size="10.2" fill="#000" textLength="33" lengthAdjust="spacingAndGlyphs">0.72550</text>
<rect x="769" y="159" width="3" height="1" fill="#000"/>
<text x="774.6" y="163" font-size="10.2" fill="#000" textLength="33" lengthAdjust="spacingAndGlyphs">0.72190</text>
<rect x="769" y="192" width="3" height="1" fill="#000"/>
<text x="774.6" y="196" font-size="10.2" fill="#000" textLength="33" lengthAdjust="spacingAndGlyphs">0.71830</text>
<rect x="769" y="225" width="3" height="1" fill="#000"/>
<text x="774.6" y="229" font-size="10.2" fill="#000" textLength="33" lengthAdjust="spacingAndGlyphs">0.71460</text>
<rect x="769" y="258" width="3" height="1" fill="#000"/>
<text x="774.6" y="262" font-size="10.2" fill="#000" textLength="33" lengthAdjust="spacingAndGlyphs">0.71100</text>
<rect x="769" y="291" width="3" height="1" fill="#000"/>
<text x="774.6" y="295" font-size="10.2" fill="#000" textLength="33" lengthAdjust="spacingAndGlyphs">0.70740</text>
<rect x="769" y="324" width="3" height="1" fill="#000"/>
<text x="774.6" y="328" font-size="10.2" fill="#000" textLength="33" lengthAdjust="spacingAndGlyphs">0.70380</text>
<rect x="769" y="357" width="3" height="1" fill="#000"/>
<text x="774.6" y="361" font-size="10.2" fill="#000" textLength="33" lengthAdjust="spacingAndGlyphs">0.70020</text>
<rect x="769" y="390" width="3" height="1" fill="#000"/>
<text x="774.6" y="394" font-size="10.2" fill="#000" textLength="33" lengthAdjust="spacingAndGlyphs">0.69660</text>
<rect x="772" y="265" width="39" height="11" fill="#000"/>
<text x="774.6" y="274" font-size="10.2" fill="#fff" textLength="33" lengthAdjust="spacingAndGlyphs">0.70976</text>
<rect x="3" y="393" width="1" height="4" fill="#000"/>
<text x="2" y="406" font-size="10.2" fill="#000" textLength="49.5" lengthAdjust="spacingAndGlyphs">22 Jan 2019</text>
<rect x="67" y="393" width="1" height="4" fill="#000"/>
<text x="66.2" y="406" font-size="10.2" fill="#000" textLength="52.9" lengthAdjust="spacingAndGlyphs">25 Jan 12:00</text>
<rect x="131" y="393" width="1" height="4" fill="#000"/>
<text x="129.8" y="406" font-size="10.2" fill="#000" textLength="53.3" lengthAdjust="spacingAndGlyphs">30 Jan 04:00</text>
<rect x="195" y="393" width="1" height="4" fill="#000"/>
<text x="194.2" y="406" font-size="10.2" fill="#000" textLength="48.9" lengthAdjust="spacingAndGlyphs">1 Feb 20:00</text>
<rect x="259" y="393" width="1" height="4" fill="#000"/>
<text x="257.4" y="406" font-size="10.2" fill="#000" textLength="50.8" lengthAdjust="spacingAndGlyphs">6 Feb 12:00</text>
<rect x="323" y="393" width="1" height="4" fill="#000"/>
<text x="322.3" y="406" font-size="10.2" fill="#000" textLength="54.5" lengthAdjust="spacingAndGlyphs">11 Feb 04:00</text>
<rect x="387" y="393" width="1" height="4" fill="#000"/>
<text x="386" y="406" font-size="10.2" fill="#000" textLength="54.5" lengthAdjust="spacingAndGlyphs">13 Feb 20:00</text>
<rect x="451" y="393" width="1" height="4" fill="#000"/>
<text x="449.9" y="406" font-size="10.2" fill="#000" textLength="54.5" lengthAdjust="spacingAndGlyphs">18 Feb 12:00</text>
<rect x="515" y="393" width="1" height="4" fill="#000"/>
<text x="513.6" y="406" font-size="10.2" fill="#000" textLength="54.9" lengthAdjust="spacingAndGlyphs">21 Feb 04:00</text>
<polygon points="6,9 13.5,9 9.75,13" fill="#000" shape-rendering="geometricPrecision"/>
<text x="18" y="14" font-size="10.2" fill="#000" textLength="56" lengthAdjust="spacingAndGlyphs">AUDUSD,H4</text>
<text x="79.8" y="14" font-size="10.2" fill="#000" textLength="32.5" lengthAdjust="spacingAndGlyphs">0.70889</text>
<text x="115.8" y="14" font-size="10.2" fill="#000" textLength="32.5" lengthAdjust="spacingAndGlyphs">0.71001</text>
<text x="151.5" y="14" font-size="10.2" fill="#000" textLength="32.5" lengthAdjust="spacingAndGlyphs">0.70817</text>
<text x="187.5" y="14" font-size="10.2" fill="#000" textLength="32.5" lengthAdjust="spacingAndGlyphs">0.70976</text>
</g>
</svg>
</body></html>
